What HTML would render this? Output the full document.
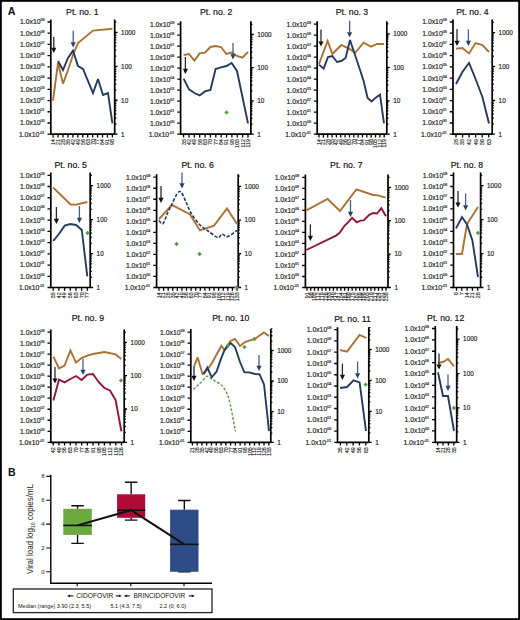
<!DOCTYPE html>
<html><head><meta charset="utf-8"><style>
html,body{margin:0;padding:0;background:#fff;}
svg{display:block;}
</style></head><body>
<svg width="520" height="620" viewBox="0 0 520 620" font-family="'Liberation Sans', sans-serif">
<rect width="520" height="620" fill="#fff"/>
<rect x="0.9" y="0.9" width="518.2" height="618.2" fill="none" stroke="#000" stroke-width="1.8"/>
<text transform="translate(7.7,14.7) scale(0.9,1)" font-size="11.8" font-weight="bold" fill="#111">A</text>
<path d="M50.8,19.4V134.2H114.7M114.7,19.4V134.2" fill="none" stroke="#000" stroke-width="1.7"/>
<text x="44.5" y="24.4" text-anchor="end" font-size="6.8" fill="#1a1a1a" stroke="#1a1a1a" stroke-width="0.16">1.0x10<tspan font-size="3.6" dy="-3">09</tspan></text>
<text x="44.5" y="35.62" text-anchor="end" font-size="6.8" fill="#1a1a1a" stroke="#1a1a1a" stroke-width="0.16">1.0x10<tspan font-size="3.6" dy="-3">08</tspan></text>
<text x="44.5" y="46.84" text-anchor="end" font-size="6.8" fill="#1a1a1a" stroke="#1a1a1a" stroke-width="0.16">1.0x10<tspan font-size="3.6" dy="-3">07</tspan></text>
<text x="44.5" y="58.06" text-anchor="end" font-size="6.8" fill="#1a1a1a" stroke="#1a1a1a" stroke-width="0.16">1.0x10<tspan font-size="3.6" dy="-3">06</tspan></text>
<text x="44.5" y="69.28" text-anchor="end" font-size="6.8" fill="#1a1a1a" stroke="#1a1a1a" stroke-width="0.16">1.0x10<tspan font-size="3.6" dy="-3">05</tspan></text>
<text x="44.5" y="80.5" text-anchor="end" font-size="6.8" fill="#1a1a1a" stroke="#1a1a1a" stroke-width="0.16">1.0x10<tspan font-size="3.6" dy="-3">04</tspan></text>
<text x="44.5" y="91.72" text-anchor="end" font-size="6.8" fill="#1a1a1a" stroke="#1a1a1a" stroke-width="0.16">1.0x10<tspan font-size="3.6" dy="-3">03</tspan></text>
<text x="44.5" y="102.94" text-anchor="end" font-size="6.8" fill="#1a1a1a" stroke="#1a1a1a" stroke-width="0.16">1.0x10<tspan font-size="3.6" dy="-3">02</tspan></text>
<text x="44.5" y="114.16" text-anchor="end" font-size="6.8" fill="#1a1a1a" stroke="#1a1a1a" stroke-width="0.16">1.0x10<tspan font-size="3.6" dy="-3">01</tspan></text>
<text x="44.5" y="125.38" text-anchor="end" font-size="6.8" fill="#1a1a1a" stroke="#1a1a1a" stroke-width="0.16">1.0x10<tspan font-size="3.6" dy="-3">00</tspan></text>
<text x="44.5" y="136.6" text-anchor="end" font-size="6.8" fill="#1a1a1a" stroke="#1a1a1a" stroke-width="0.16">1.0x10<tspan font-size="3.6" dy="-3">-01</tspan></text>
<text x="121.1" y="136.5" font-size="6.4" fill="#1a1a1a" stroke="#1a1a1a" stroke-width="0.16">1</text>
<text x="121.1" y="102.57" font-size="6.4" fill="#1a1a1a" stroke="#1a1a1a" stroke-width="0.16">10</text>
<text x="121.1" y="68.64" font-size="6.4" fill="#1a1a1a" stroke="#1a1a1a" stroke-width="0.16">100</text>
<text x="121.1" y="34.71" font-size="6.4" fill="#1a1a1a" stroke="#1a1a1a" stroke-width="0.16">1000</text>
<path d="M47.5,22H50.8M47.5,33.22H50.8M47.5,44.44H50.8M47.5,55.66H50.8M47.5,66.88H50.8M47.5,78.1H50.8M47.5,89.32H50.8M47.5,100.54H50.8M47.5,111.76H50.8M47.5,122.98H50.8M47.5,134.2H50.8M114.7,134.2H117.6M114.7,123.99H116.3M114.7,118.01H116.3M114.7,113.77H116.3M114.7,110.48H116.3M114.7,107.8H116.3M114.7,105.53H116.3M114.7,103.56H116.3M114.7,101.82H116.3M114.7,100.27H117.6M114.7,90.06H116.3M114.7,84.08H116.3M114.7,79.84H116.3M114.7,76.55H116.3M114.7,73.87H116.3M114.7,71.6H116.3M114.7,69.63H116.3M114.7,67.89H116.3M114.7,66.34H117.6M114.7,56.13H116.3M114.7,50.15H116.3M114.7,45.91H116.3M114.7,42.62H116.3M114.7,39.94H116.3M114.7,37.67H116.3M114.7,35.7H116.3M114.7,33.96H116.3M114.7,32.41H117.6M114.7,22.2H116.3M53.1,134.2V137.4M58.04,134.2V137.4M62.98,134.2V137.4M67.92,134.2V137.4M72.87,134.2V137.4M77.81,134.2V137.4M82.75,134.2V137.4M87.69,134.2V137.4M92.63,134.2V137.4M97.58,134.2V137.4M102.52,134.2V137.4M107.46,134.2V137.4M112.4,134.2V137.4" stroke="#000" stroke-width="1.3" fill="none"/>
<text transform="translate(55,139.1) rotate(-90)" text-anchor="end" font-size="5.3" fill="#1a1a1a" stroke="#1a1a1a" stroke-width="0.12">14</text>
<text transform="translate(59.94,139.1) rotate(-90)" text-anchor="end" font-size="5.3" fill="#1a1a1a" stroke="#1a1a1a" stroke-width="0.12">21</text>
<text transform="translate(64.88,139.1) rotate(-90)" text-anchor="end" font-size="5.3" fill="#1a1a1a" stroke="#1a1a1a" stroke-width="0.12">28</text>
<text transform="translate(69.83,139.1) rotate(-90)" text-anchor="end" font-size="5.3" fill="#1a1a1a" stroke="#1a1a1a" stroke-width="0.12">35</text>
<text transform="translate(74.77,139.1) rotate(-90)" text-anchor="end" font-size="5.3" fill="#1a1a1a" stroke="#1a1a1a" stroke-width="0.12">42</text>
<text transform="translate(79.71,139.1) rotate(-90)" text-anchor="end" font-size="5.3" fill="#1a1a1a" stroke="#1a1a1a" stroke-width="0.12">49</text>
<text transform="translate(84.65,139.1) rotate(-90)" text-anchor="end" font-size="5.3" fill="#1a1a1a" stroke="#1a1a1a" stroke-width="0.12">56</text>
<text transform="translate(89.59,139.1) rotate(-90)" text-anchor="end" font-size="5.3" fill="#1a1a1a" stroke="#1a1a1a" stroke-width="0.12">63</text>
<text transform="translate(94.53,139.1) rotate(-90)" text-anchor="end" font-size="5.3" fill="#1a1a1a" stroke="#1a1a1a" stroke-width="0.12">70</text>
<text transform="translate(99.48,139.1) rotate(-90)" text-anchor="end" font-size="5.3" fill="#1a1a1a" stroke="#1a1a1a" stroke-width="0.12">77</text>
<text transform="translate(104.42,139.1) rotate(-90)" text-anchor="end" font-size="5.3" fill="#1a1a1a" stroke="#1a1a1a" stroke-width="0.12">84</text>
<text transform="translate(109.36,139.1) rotate(-90)" text-anchor="end" font-size="5.3" fill="#1a1a1a" stroke="#1a1a1a" stroke-width="0.12">91</text>
<text transform="translate(114.3,139.1) rotate(-90)" text-anchor="end" font-size="5.3" fill="#1a1a1a" stroke="#1a1a1a" stroke-width="0.12">98</text>
<text x="82.3" y="14.8" text-anchor="middle" font-size="8.7" fill="#111" stroke="#111" stroke-width="0.18">Pt. no. 1</text>
<polyline points="53,100.6 58,63 63,83.6 68,70 73,55 78,43 93,30.6 112.4,28.8" fill="none" stroke="#AA7232" stroke-width="1.9" stroke-linejoin="miter" stroke-miterlimit="3"/>
<polyline points="58,61 63,70 68,58 73,50.6 78,66 83,69 93,93 98,79 103,95 108,93 112.4,123.4" fill="none" stroke="#253A5E" stroke-width="1.9" stroke-linejoin="miter" stroke-miterlimit="3"/>
<line x1="53.8" y1="36.7" x2="53.8" y2="48.3" stroke="#2a2a2a" stroke-width="1.3"/>
<polygon points="51.2,47.8 56.4,47.8 53.8,53" fill="#111"/>
<line x1="73.2" y1="30.8" x2="73.2" y2="42.8" stroke="#4A5F88" stroke-width="1.3"/>
<polygon points="70.6,42.3 75.8,42.3 73.2,47.5" fill="#2A4169"/>
<path d="M180.6,21.2V134.2H250.9M250.9,21.2V134.2" fill="none" stroke="#000" stroke-width="1.7"/>
<text x="174.3" y="26.6" text-anchor="end" font-size="6.8" fill="#1a1a1a" stroke="#1a1a1a" stroke-width="0.16">1.0x10<tspan font-size="3.6" dy="-3">09</tspan></text>
<text x="174.3" y="37.6" text-anchor="end" font-size="6.8" fill="#1a1a1a" stroke="#1a1a1a" stroke-width="0.16">1.0x10<tspan font-size="3.6" dy="-3">08</tspan></text>
<text x="174.3" y="48.6" text-anchor="end" font-size="6.8" fill="#1a1a1a" stroke="#1a1a1a" stroke-width="0.16">1.0x10<tspan font-size="3.6" dy="-3">07</tspan></text>
<text x="174.3" y="59.6" text-anchor="end" font-size="6.8" fill="#1a1a1a" stroke="#1a1a1a" stroke-width="0.16">1.0x10<tspan font-size="3.6" dy="-3">06</tspan></text>
<text x="174.3" y="70.6" text-anchor="end" font-size="6.8" fill="#1a1a1a" stroke="#1a1a1a" stroke-width="0.16">1.0x10<tspan font-size="3.6" dy="-3">05</tspan></text>
<text x="174.3" y="81.6" text-anchor="end" font-size="6.8" fill="#1a1a1a" stroke="#1a1a1a" stroke-width="0.16">1.0x10<tspan font-size="3.6" dy="-3">04</tspan></text>
<text x="174.3" y="92.6" text-anchor="end" font-size="6.8" fill="#1a1a1a" stroke="#1a1a1a" stroke-width="0.16">1.0x10<tspan font-size="3.6" dy="-3">03</tspan></text>
<text x="174.3" y="103.6" text-anchor="end" font-size="6.8" fill="#1a1a1a" stroke="#1a1a1a" stroke-width="0.16">1.0x10<tspan font-size="3.6" dy="-3">02</tspan></text>
<text x="174.3" y="114.6" text-anchor="end" font-size="6.8" fill="#1a1a1a" stroke="#1a1a1a" stroke-width="0.16">1.0x10<tspan font-size="3.6" dy="-3">01</tspan></text>
<text x="174.3" y="125.6" text-anchor="end" font-size="6.8" fill="#1a1a1a" stroke="#1a1a1a" stroke-width="0.16">1.0x10<tspan font-size="3.6" dy="-3">00</tspan></text>
<text x="174.3" y="136.6" text-anchor="end" font-size="6.8" fill="#1a1a1a" stroke="#1a1a1a" stroke-width="0.16">1.0x10<tspan font-size="3.6" dy="-3">-01</tspan></text>
<text x="257.3" y="136.5" font-size="6.4" fill="#1a1a1a" stroke="#1a1a1a" stroke-width="0.16">1</text>
<text x="257.3" y="103.23" font-size="6.4" fill="#1a1a1a" stroke="#1a1a1a" stroke-width="0.16">10</text>
<text x="257.3" y="69.96" font-size="6.4" fill="#1a1a1a" stroke="#1a1a1a" stroke-width="0.16">100</text>
<text x="257.3" y="36.69" font-size="6.4" fill="#1a1a1a" stroke="#1a1a1a" stroke-width="0.16">1000</text>
<path d="M177.3,24.2H180.6M177.3,35.2H180.6M177.3,46.2H180.6M177.3,57.2H180.6M177.3,68.2H180.6M177.3,79.2H180.6M177.3,90.2H180.6M177.3,101.2H180.6M177.3,112.2H180.6M177.3,123.2H180.6M177.3,134.2H180.6M250.9,134.2H253.8M250.9,124.18H252.5M250.9,118.33H252.5M250.9,114.17H252.5M250.9,110.95H252.5M250.9,108.31H252.5M250.9,106.08H252.5M250.9,104.15H252.5M250.9,102.45H252.5M250.9,100.93H253.8M250.9,90.91H252.5M250.9,85.06H252.5M250.9,80.9H252.5M250.9,77.68H252.5M250.9,75.04H252.5M250.9,72.81H252.5M250.9,70.88H252.5M250.9,69.18H252.5M250.9,67.66H253.8M250.9,57.64H252.5M250.9,51.79H252.5M250.9,47.63H252.5M250.9,44.41H252.5M250.9,41.77H252.5M250.9,39.54H252.5M250.9,37.61H252.5M250.9,35.91H252.5M250.9,34.39H253.8M250.9,24.37H252.5M183.6,134.2V137.4M188.97,134.2V137.4M194.33,134.2V137.4M199.7,134.2V137.4M205.07,134.2V137.4M210.43,134.2V137.4M215.8,134.2V137.4M221.17,134.2V137.4M226.53,134.2V137.4M231.9,134.2V137.4M237.27,134.2V137.4M242.63,134.2V137.4M248,134.2V137.4" stroke="#000" stroke-width="1.3" fill="none"/>
<text transform="translate(185.5,139.1) rotate(-90)" text-anchor="end" font-size="5.3" fill="#1a1a1a" stroke="#1a1a1a" stroke-width="0.12">35</text>
<text transform="translate(190.87,139.1) rotate(-90)" text-anchor="end" font-size="5.3" fill="#1a1a1a" stroke="#1a1a1a" stroke-width="0.12">42</text>
<text transform="translate(196.23,139.1) rotate(-90)" text-anchor="end" font-size="5.3" fill="#1a1a1a" stroke="#1a1a1a" stroke-width="0.12">49</text>
<text transform="translate(201.6,139.1) rotate(-90)" text-anchor="end" font-size="5.3" fill="#1a1a1a" stroke="#1a1a1a" stroke-width="0.12">56</text>
<text transform="translate(206.97,139.1) rotate(-90)" text-anchor="end" font-size="5.3" fill="#1a1a1a" stroke="#1a1a1a" stroke-width="0.12">63</text>
<text transform="translate(212.33,139.1) rotate(-90)" text-anchor="end" font-size="5.3" fill="#1a1a1a" stroke="#1a1a1a" stroke-width="0.12">70</text>
<text transform="translate(217.7,139.1) rotate(-90)" text-anchor="end" font-size="5.3" fill="#1a1a1a" stroke="#1a1a1a" stroke-width="0.12">77</text>
<text transform="translate(223.07,139.1) rotate(-90)" text-anchor="end" font-size="5.3" fill="#1a1a1a" stroke="#1a1a1a" stroke-width="0.12">84</text>
<text transform="translate(228.43,139.1) rotate(-90)" text-anchor="end" font-size="5.3" fill="#1a1a1a" stroke="#1a1a1a" stroke-width="0.12">91</text>
<text transform="translate(233.8,139.1) rotate(-90)" text-anchor="end" font-size="5.3" fill="#1a1a1a" stroke="#1a1a1a" stroke-width="0.12">98</text>
<text transform="translate(239.17,139.1) rotate(-90)" text-anchor="end" font-size="5.3" fill="#1a1a1a" stroke="#1a1a1a" stroke-width="0.12">105</text>
<text transform="translate(244.53,139.1) rotate(-90)" text-anchor="end" font-size="5.3" fill="#1a1a1a" stroke="#1a1a1a" stroke-width="0.12">112</text>
<text transform="translate(249.9,139.1) rotate(-90)" text-anchor="end" font-size="5.3" fill="#1a1a1a" stroke="#1a1a1a" stroke-width="0.12">119</text>
<text x="216.2" y="15" text-anchor="middle" font-size="8.7" fill="#111" stroke="#111" stroke-width="0.18">Pt. no. 2</text>
<polyline points="183.6,55 189,54 194.4,60.6 199.6,53.4 205,52.6 210.4,47 215.6,46 221,47 226.4,54 231.6,52.6 237,56 242.4,57.6 248,52" fill="none" stroke="#AA7232" stroke-width="1.9" stroke-linejoin="miter" stroke-miterlimit="3"/>
<polyline points="183.6,78.6 189,89.4 194.4,93 199.6,95.4 205,91.4 210.4,90 215.6,69 221,67.4 226.4,66 231.6,63 237,71 248,123.4" fill="none" stroke="#253A5E" stroke-width="1.9" stroke-linejoin="miter" stroke-miterlimit="3"/>
<polygon points="226.6,110.2 228.8,112.4 226.6,114.6 224.4,112.4" fill="#5A9A44"/>
<line x1="185.4" y1="57" x2="185.4" y2="69.3" stroke="#2a2a2a" stroke-width="1.3"/>
<polygon points="182.8,68.8 188,68.8 185.4,74" fill="#111"/>
<line x1="233" y1="43" x2="233" y2="54.7" stroke="#4A5F88" stroke-width="1.3"/>
<polygon points="230.4,54.2 235.6,54.2 233,59.4" fill="#2A4169"/>
<path d="M317.2,21.3V134.2H386.8M386.8,21.3V134.2" fill="none" stroke="#000" stroke-width="1.7"/>
<text x="310.9" y="26.6" text-anchor="end" font-size="6.8" fill="#1a1a1a" stroke="#1a1a1a" stroke-width="0.16">1.0x10<tspan font-size="3.6" dy="-3">09</tspan></text>
<text x="310.9" y="37.6" text-anchor="end" font-size="6.8" fill="#1a1a1a" stroke="#1a1a1a" stroke-width="0.16">1.0x10<tspan font-size="3.6" dy="-3">08</tspan></text>
<text x="310.9" y="48.6" text-anchor="end" font-size="6.8" fill="#1a1a1a" stroke="#1a1a1a" stroke-width="0.16">1.0x10<tspan font-size="3.6" dy="-3">07</tspan></text>
<text x="310.9" y="59.6" text-anchor="end" font-size="6.8" fill="#1a1a1a" stroke="#1a1a1a" stroke-width="0.16">1.0x10<tspan font-size="3.6" dy="-3">06</tspan></text>
<text x="310.9" y="70.6" text-anchor="end" font-size="6.8" fill="#1a1a1a" stroke="#1a1a1a" stroke-width="0.16">1.0x10<tspan font-size="3.6" dy="-3">05</tspan></text>
<text x="310.9" y="81.6" text-anchor="end" font-size="6.8" fill="#1a1a1a" stroke="#1a1a1a" stroke-width="0.16">1.0x10<tspan font-size="3.6" dy="-3">04</tspan></text>
<text x="310.9" y="92.6" text-anchor="end" font-size="6.8" fill="#1a1a1a" stroke="#1a1a1a" stroke-width="0.16">1.0x10<tspan font-size="3.6" dy="-3">03</tspan></text>
<text x="310.9" y="103.6" text-anchor="end" font-size="6.8" fill="#1a1a1a" stroke="#1a1a1a" stroke-width="0.16">1.0x10<tspan font-size="3.6" dy="-3">02</tspan></text>
<text x="310.9" y="114.6" text-anchor="end" font-size="6.8" fill="#1a1a1a" stroke="#1a1a1a" stroke-width="0.16">1.0x10<tspan font-size="3.6" dy="-3">01</tspan></text>
<text x="310.9" y="125.6" text-anchor="end" font-size="6.8" fill="#1a1a1a" stroke="#1a1a1a" stroke-width="0.16">1.0x10<tspan font-size="3.6" dy="-3">00</tspan></text>
<text x="310.9" y="136.6" text-anchor="end" font-size="6.8" fill="#1a1a1a" stroke="#1a1a1a" stroke-width="0.16">1.0x10<tspan font-size="3.6" dy="-3">-01</tspan></text>
<text x="393.2" y="136.5" font-size="6.4" fill="#1a1a1a" stroke="#1a1a1a" stroke-width="0.16">1</text>
<text x="393.2" y="103.1" font-size="6.4" fill="#1a1a1a" stroke="#1a1a1a" stroke-width="0.16">10</text>
<text x="393.2" y="69.7" font-size="6.4" fill="#1a1a1a" stroke="#1a1a1a" stroke-width="0.16">100</text>
<text x="393.2" y="36.3" font-size="6.4" fill="#1a1a1a" stroke="#1a1a1a" stroke-width="0.16">1000</text>
<path d="M313.9,24.2H317.2M313.9,35.2H317.2M313.9,46.2H317.2M313.9,57.2H317.2M313.9,68.2H317.2M313.9,79.2H317.2M313.9,90.2H317.2M313.9,101.2H317.2M313.9,112.2H317.2M313.9,123.2H317.2M313.9,134.2H317.2M386.8,134.2H389.7M386.8,124.15H388.4M386.8,118.26H388.4M386.8,114.09H388.4M386.8,110.85H388.4M386.8,108.21H388.4M386.8,105.97H388.4M386.8,104.04H388.4M386.8,102.33H388.4M386.8,100.8H389.7M386.8,90.75H388.4M386.8,84.86H388.4M386.8,80.69H388.4M386.8,77.45H388.4M386.8,74.81H388.4M386.8,72.57H388.4M386.8,70.64H388.4M386.8,68.93H388.4M386.8,67.4H389.7M386.8,57.35H388.4M386.8,51.46H388.4M386.8,47.29H388.4M386.8,44.05H388.4M386.8,41.41H388.4M386.8,39.17H388.4M386.8,37.24H388.4M386.8,35.53H388.4M386.8,34H389.7M386.8,23.95H388.4M319,134.2V137.4M323.35,134.2V137.4M327.69,134.2V137.4M332.04,134.2V137.4M336.39,134.2V137.4M340.73,134.2V137.4M345.08,134.2V137.4M349.43,134.2V137.4M353.77,134.2V137.4M358.12,134.2V137.4M362.47,134.2V137.4M366.81,134.2V137.4M371.16,134.2V137.4M375.51,134.2V137.4M379.85,134.2V137.4M384.2,134.2V137.4" stroke="#000" stroke-width="1.3" fill="none"/>
<text transform="translate(320.9,139.1) rotate(-90)" text-anchor="end" font-size="5.3" fill="#1a1a1a" stroke="#1a1a1a" stroke-width="0.12">14</text>
<text transform="translate(325.25,139.1) rotate(-90)" text-anchor="end" font-size="5.3" fill="#1a1a1a" stroke="#1a1a1a" stroke-width="0.12">21</text>
<text transform="translate(329.59,139.1) rotate(-90)" text-anchor="end" font-size="5.3" fill="#1a1a1a" stroke="#1a1a1a" stroke-width="0.12">28</text>
<text transform="translate(333.94,139.1) rotate(-90)" text-anchor="end" font-size="5.3" fill="#1a1a1a" stroke="#1a1a1a" stroke-width="0.12">35</text>
<text transform="translate(338.29,139.1) rotate(-90)" text-anchor="end" font-size="5.3" fill="#1a1a1a" stroke="#1a1a1a" stroke-width="0.12">42</text>
<text transform="translate(342.63,139.1) rotate(-90)" text-anchor="end" font-size="5.3" fill="#1a1a1a" stroke="#1a1a1a" stroke-width="0.12">49</text>
<text transform="translate(346.98,139.1) rotate(-90)" text-anchor="end" font-size="5.3" fill="#1a1a1a" stroke="#1a1a1a" stroke-width="0.12">56</text>
<text transform="translate(351.33,139.1) rotate(-90)" text-anchor="end" font-size="5.3" fill="#1a1a1a" stroke="#1a1a1a" stroke-width="0.12">63</text>
<text transform="translate(355.67,139.1) rotate(-90)" text-anchor="end" font-size="5.3" fill="#1a1a1a" stroke="#1a1a1a" stroke-width="0.12">70</text>
<text transform="translate(360.02,139.1) rotate(-90)" text-anchor="end" font-size="5.3" fill="#1a1a1a" stroke="#1a1a1a" stroke-width="0.12">77</text>
<text transform="translate(364.37,139.1) rotate(-90)" text-anchor="end" font-size="5.3" fill="#1a1a1a" stroke="#1a1a1a" stroke-width="0.12">84</text>
<text transform="translate(368.71,139.1) rotate(-90)" text-anchor="end" font-size="5.3" fill="#1a1a1a" stroke="#1a1a1a" stroke-width="0.12">91</text>
<text transform="translate(373.06,139.1) rotate(-90)" text-anchor="end" font-size="5.3" fill="#1a1a1a" stroke="#1a1a1a" stroke-width="0.12">98</text>
<text transform="translate(377.41,139.1) rotate(-90)" text-anchor="end" font-size="5.3" fill="#1a1a1a" stroke="#1a1a1a" stroke-width="0.12">105</text>
<text transform="translate(381.75,139.1) rotate(-90)" text-anchor="end" font-size="5.3" fill="#1a1a1a" stroke="#1a1a1a" stroke-width="0.12">112</text>
<text transform="translate(386.1,139.1) rotate(-90)" text-anchor="end" font-size="5.3" fill="#1a1a1a" stroke="#1a1a1a" stroke-width="0.12">119</text>
<text x="352" y="15" text-anchor="middle" font-size="8.7" fill="#111" stroke="#111" stroke-width="0.18">Pt. no. 3</text>
<polyline points="319,64 327.6,41 332.4,54 341.4,45 350.4,49.4 355,53 363.6,42.6 371,46.6 377,44 384,44" fill="none" stroke="#AA7232" stroke-width="1.9" stroke-linejoin="miter" stroke-miterlimit="3"/>
<polyline points="319,64.6 323.6,68.6 328,57 332.4,56 337,62 341.4,61 345.6,58 350,40 355,55 359.4,68 363.6,81 367.6,98 371.6,101.4 376,97.4 380,94.6 384,123.4" fill="none" stroke="#253A5E" stroke-width="1.9" stroke-linejoin="miter" stroke-miterlimit="3"/>
<line x1="321" y1="29.4" x2="321" y2="41.9" stroke="#2a2a2a" stroke-width="1.3"/>
<polygon points="318.4,41.4 323.6,41.4 321,46.6" fill="#111"/>
<line x1="349.6" y1="20.6" x2="349.6" y2="32.7" stroke="#4A5F88" stroke-width="1.3"/>
<polygon points="347,32.2 352.2,32.2 349.6,37.4" fill="#2A4169"/>
<path d="M453,19.4V134.2H492.2M492.2,19.4V134.2" fill="none" stroke="#000" stroke-width="1.7"/>
<text x="446.7" y="24.4" text-anchor="end" font-size="6.8" fill="#1a1a1a" stroke="#1a1a1a" stroke-width="0.16">1.0x10<tspan font-size="3.6" dy="-3">09</tspan></text>
<text x="446.7" y="35.62" text-anchor="end" font-size="6.8" fill="#1a1a1a" stroke="#1a1a1a" stroke-width="0.16">1.0x10<tspan font-size="3.6" dy="-3">08</tspan></text>
<text x="446.7" y="46.84" text-anchor="end" font-size="6.8" fill="#1a1a1a" stroke="#1a1a1a" stroke-width="0.16">1.0x10<tspan font-size="3.6" dy="-3">07</tspan></text>
<text x="446.7" y="58.06" text-anchor="end" font-size="6.8" fill="#1a1a1a" stroke="#1a1a1a" stroke-width="0.16">1.0x10<tspan font-size="3.6" dy="-3">06</tspan></text>
<text x="446.7" y="69.28" text-anchor="end" font-size="6.8" fill="#1a1a1a" stroke="#1a1a1a" stroke-width="0.16">1.0x10<tspan font-size="3.6" dy="-3">05</tspan></text>
<text x="446.7" y="80.5" text-anchor="end" font-size="6.8" fill="#1a1a1a" stroke="#1a1a1a" stroke-width="0.16">1.0x10<tspan font-size="3.6" dy="-3">04</tspan></text>
<text x="446.7" y="91.72" text-anchor="end" font-size="6.8" fill="#1a1a1a" stroke="#1a1a1a" stroke-width="0.16">1.0x10<tspan font-size="3.6" dy="-3">03</tspan></text>
<text x="446.7" y="102.94" text-anchor="end" font-size="6.8" fill="#1a1a1a" stroke="#1a1a1a" stroke-width="0.16">1.0x10<tspan font-size="3.6" dy="-3">02</tspan></text>
<text x="446.7" y="114.16" text-anchor="end" font-size="6.8" fill="#1a1a1a" stroke="#1a1a1a" stroke-width="0.16">1.0x10<tspan font-size="3.6" dy="-3">01</tspan></text>
<text x="446.7" y="125.38" text-anchor="end" font-size="6.8" fill="#1a1a1a" stroke="#1a1a1a" stroke-width="0.16">1.0x10<tspan font-size="3.6" dy="-3">00</tspan></text>
<text x="446.7" y="136.6" text-anchor="end" font-size="6.8" fill="#1a1a1a" stroke="#1a1a1a" stroke-width="0.16">1.0x10<tspan font-size="3.6" dy="-3">-01</tspan></text>
<text x="498.6" y="136.5" font-size="6.4" fill="#1a1a1a" stroke="#1a1a1a" stroke-width="0.16">1</text>
<text x="498.6" y="102.63" font-size="6.4" fill="#1a1a1a" stroke="#1a1a1a" stroke-width="0.16">10</text>
<text x="498.6" y="68.76" font-size="6.4" fill="#1a1a1a" stroke="#1a1a1a" stroke-width="0.16">100</text>
<text x="498.6" y="34.89" font-size="6.4" fill="#1a1a1a" stroke="#1a1a1a" stroke-width="0.16">1000</text>
<path d="M449.7,22H453M449.7,33.22H453M449.7,44.44H453M449.7,55.66H453M449.7,66.88H453M449.7,78.1H453M449.7,89.32H453M449.7,100.54H453M449.7,111.76H453M449.7,122.98H453M449.7,134.2H453M492.2,134.2H495.1M492.2,124H493.8M492.2,118.04H493.8M492.2,113.81H493.8M492.2,110.53H493.8M492.2,107.84H493.8M492.2,105.58H493.8M492.2,103.61H493.8M492.2,101.88H493.8M492.2,100.33H495.1M492.2,90.13H493.8M492.2,84.17H493.8M492.2,79.94H493.8M492.2,76.66H493.8M492.2,73.97H493.8M492.2,71.71H493.8M492.2,69.74H493.8M492.2,68.01H493.8M492.2,66.46H495.1M492.2,56.26H493.8M492.2,50.3H493.8M492.2,46.07H493.8M492.2,42.79H493.8M492.2,40.1H493.8M492.2,37.84H493.8M492.2,35.87H493.8M492.2,34.14H493.8M492.2,32.59H495.1M492.2,22.39H493.8M456,134.2V137.4M462.55,134.2V137.4M469.1,134.2V137.4M475.65,134.2V137.4M482.2,134.2V137.4M488.75,134.2V137.4" stroke="#000" stroke-width="1.3" fill="none"/>
<text transform="translate(457.9,139.1) rotate(-90)" text-anchor="end" font-size="5.3" fill="#1a1a1a" stroke="#1a1a1a" stroke-width="0.12">28</text>
<text transform="translate(464.45,139.1) rotate(-90)" text-anchor="end" font-size="5.3" fill="#1a1a1a" stroke="#1a1a1a" stroke-width="0.12">35</text>
<text transform="translate(471,139.1) rotate(-90)" text-anchor="end" font-size="5.3" fill="#1a1a1a" stroke="#1a1a1a" stroke-width="0.12">42</text>
<text transform="translate(477.55,139.1) rotate(-90)" text-anchor="end" font-size="5.3" fill="#1a1a1a" stroke="#1a1a1a" stroke-width="0.12">49</text>
<text transform="translate(484.1,139.1) rotate(-90)" text-anchor="end" font-size="5.3" fill="#1a1a1a" stroke="#1a1a1a" stroke-width="0.12">56</text>
<text transform="translate(490.65,139.1) rotate(-90)" text-anchor="end" font-size="5.3" fill="#1a1a1a" stroke="#1a1a1a" stroke-width="0.12">63</text>
<text x="472.4" y="14.8" text-anchor="middle" font-size="8.7" fill="#111" stroke="#111" stroke-width="0.18">Pt. no. 4</text>
<polyline points="456,48.6 462.4,48 469,53.4 475.6,43 482.4,45 489,52" fill="none" stroke="#AA7232" stroke-width="1.9" stroke-linejoin="miter" stroke-miterlimit="3"/>
<polyline points="456,84 462.4,72 469,63 475.6,79 482.4,97 489,123.4" fill="none" stroke="#253A5E" stroke-width="1.9" stroke-linejoin="miter" stroke-miterlimit="3"/>
<line x1="457" y1="29" x2="457" y2="41.3" stroke="#2a2a2a" stroke-width="1.3"/>
<polygon points="454.4,40.8 459.6,40.8 457,46" fill="#111"/>
<line x1="468.4" y1="29.4" x2="468.4" y2="41.3" stroke="#4A5F88" stroke-width="1.3"/>
<polygon points="465.8,40.8 471,40.8 468.4,46" fill="#2A4169"/>
<path d="M50.8,172.6V287.5H90.2M90.2,172.6V287.5" fill="none" stroke="#000" stroke-width="1.7"/>
<text x="44.5" y="177.7" text-anchor="end" font-size="6.8" fill="#1a1a1a" stroke="#1a1a1a" stroke-width="0.16">1.0x10<tspan font-size="3.6" dy="-3">09</tspan></text>
<text x="44.5" y="188.92" text-anchor="end" font-size="6.8" fill="#1a1a1a" stroke="#1a1a1a" stroke-width="0.16">1.0x10<tspan font-size="3.6" dy="-3">08</tspan></text>
<text x="44.5" y="200.14" text-anchor="end" font-size="6.8" fill="#1a1a1a" stroke="#1a1a1a" stroke-width="0.16">1.0x10<tspan font-size="3.6" dy="-3">07</tspan></text>
<text x="44.5" y="211.36" text-anchor="end" font-size="6.8" fill="#1a1a1a" stroke="#1a1a1a" stroke-width="0.16">1.0x10<tspan font-size="3.6" dy="-3">06</tspan></text>
<text x="44.5" y="222.58" text-anchor="end" font-size="6.8" fill="#1a1a1a" stroke="#1a1a1a" stroke-width="0.16">1.0x10<tspan font-size="3.6" dy="-3">05</tspan></text>
<text x="44.5" y="233.8" text-anchor="end" font-size="6.8" fill="#1a1a1a" stroke="#1a1a1a" stroke-width="0.16">1.0x10<tspan font-size="3.6" dy="-3">04</tspan></text>
<text x="44.5" y="245.02" text-anchor="end" font-size="6.8" fill="#1a1a1a" stroke="#1a1a1a" stroke-width="0.16">1.0x10<tspan font-size="3.6" dy="-3">03</tspan></text>
<text x="44.5" y="256.24" text-anchor="end" font-size="6.8" fill="#1a1a1a" stroke="#1a1a1a" stroke-width="0.16">1.0x10<tspan font-size="3.6" dy="-3">02</tspan></text>
<text x="44.5" y="267.46" text-anchor="end" font-size="6.8" fill="#1a1a1a" stroke="#1a1a1a" stroke-width="0.16">1.0x10<tspan font-size="3.6" dy="-3">01</tspan></text>
<text x="44.5" y="278.68" text-anchor="end" font-size="6.8" fill="#1a1a1a" stroke="#1a1a1a" stroke-width="0.16">1.0x10<tspan font-size="3.6" dy="-3">00</tspan></text>
<text x="44.5" y="289.9" text-anchor="end" font-size="6.8" fill="#1a1a1a" stroke="#1a1a1a" stroke-width="0.16">1.0x10<tspan font-size="3.6" dy="-3">-01</tspan></text>
<text x="96.6" y="289.8" font-size="6.4" fill="#1a1a1a" stroke="#1a1a1a" stroke-width="0.16">1</text>
<text x="96.6" y="255.83" font-size="6.4" fill="#1a1a1a" stroke="#1a1a1a" stroke-width="0.16">10</text>
<text x="96.6" y="221.86" font-size="6.4" fill="#1a1a1a" stroke="#1a1a1a" stroke-width="0.16">100</text>
<text x="96.6" y="187.89" font-size="6.4" fill="#1a1a1a" stroke="#1a1a1a" stroke-width="0.16">1000</text>
<path d="M47.5,175.3H50.8M47.5,186.52H50.8M47.5,197.74H50.8M47.5,208.96H50.8M47.5,220.18H50.8M47.5,231.4H50.8M47.5,242.62H50.8M47.5,253.84H50.8M47.5,265.06H50.8M47.5,276.28H50.8M47.5,287.5H50.8M90.2,287.5H93.1M90.2,277.27H91.8M90.2,271.29H91.8M90.2,267.05H91.8M90.2,263.76H91.8M90.2,261.07H91.8M90.2,258.79H91.8M90.2,256.82H91.8M90.2,255.08H91.8M90.2,253.53H93.1M90.2,243.3H91.8M90.2,237.32H91.8M90.2,233.08H91.8M90.2,229.79H91.8M90.2,227.1H91.8M90.2,224.82H91.8M90.2,222.85H91.8M90.2,221.11H91.8M90.2,219.56H93.1M90.2,209.33H91.8M90.2,203.35H91.8M90.2,199.11H91.8M90.2,195.82H91.8M90.2,193.13H91.8M90.2,190.85H91.8M90.2,188.88H91.8M90.2,187.14H91.8M90.2,185.59H93.1M90.2,175.36H91.8M53.2,287.5V290.7M58.88,287.5V290.7M64.57,287.5V290.7M70.25,287.5V290.7M75.93,287.5V290.7M81.62,287.5V290.7M87.3,287.5V290.7" stroke="#000" stroke-width="1.3" fill="none"/>
<text transform="translate(55.1,292.4) rotate(-90)" text-anchor="end" font-size="5.3" fill="#1a1a1a" stroke="#1a1a1a" stroke-width="0.12">35</text>
<text transform="translate(60.78,292.4) rotate(-90)" text-anchor="end" font-size="5.3" fill="#1a1a1a" stroke="#1a1a1a" stroke-width="0.12">42</text>
<text transform="translate(66.47,292.4) rotate(-90)" text-anchor="end" font-size="5.3" fill="#1a1a1a" stroke="#1a1a1a" stroke-width="0.12">49</text>
<text transform="translate(72.15,292.4) rotate(-90)" text-anchor="end" font-size="5.3" fill="#1a1a1a" stroke="#1a1a1a" stroke-width="0.12">56</text>
<text transform="translate(77.83,292.4) rotate(-90)" text-anchor="end" font-size="5.3" fill="#1a1a1a" stroke="#1a1a1a" stroke-width="0.12">63</text>
<text transform="translate(83.52,292.4) rotate(-90)" text-anchor="end" font-size="5.3" fill="#1a1a1a" stroke="#1a1a1a" stroke-width="0.12">70</text>
<text transform="translate(89.2,292.4) rotate(-90)" text-anchor="end" font-size="5.3" fill="#1a1a1a" stroke="#1a1a1a" stroke-width="0.12">77</text>
<text x="70.75" y="167.5" text-anchor="middle" font-size="8.7" fill="#111" stroke="#111" stroke-width="0.18">Pt. no. 5</text>
<polyline points="53.2,187.6 70.6,204.5 76.1,204.6 87.3,202" fill="none" stroke="#AA7232" stroke-width="1.9" stroke-linejoin="miter" stroke-miterlimit="3"/>
<polyline points="53.2,241 58.9,234 64.7,225.6 70.4,224 76.1,225 81.8,230 87.3,276.4" fill="none" stroke="#253A5E" stroke-width="1.9" stroke-linejoin="miter" stroke-miterlimit="3"/>
<polygon points="87.6,230.8 89.8,233 87.6,235.2 85.4,233" fill="#5A9A44"/>
<line x1="56.4" y1="207" x2="56.4" y2="219.3" stroke="#2a2a2a" stroke-width="1.3"/>
<polygon points="53.8,218.8 59,218.8 56.4,224" fill="#111"/>
<line x1="79.4" y1="206" x2="79.4" y2="218.3" stroke="#4A5F88" stroke-width="1.3"/>
<polygon points="76.8,217.8 82,217.8 79.4,223" fill="#2A4169"/>
<path d="M156.6,174.3V287.5H238.2M238.2,174.3V287.5" fill="none" stroke="#000" stroke-width="1.7"/>
<text x="150.3" y="179.6" text-anchor="end" font-size="6.8" fill="#1a1a1a" stroke="#1a1a1a" stroke-width="0.16">1.0x10<tspan font-size="3.6" dy="-3">09</tspan></text>
<text x="150.3" y="190.63" text-anchor="end" font-size="6.8" fill="#1a1a1a" stroke="#1a1a1a" stroke-width="0.16">1.0x10<tspan font-size="3.6" dy="-3">08</tspan></text>
<text x="150.3" y="201.66" text-anchor="end" font-size="6.8" fill="#1a1a1a" stroke="#1a1a1a" stroke-width="0.16">1.0x10<tspan font-size="3.6" dy="-3">07</tspan></text>
<text x="150.3" y="212.69" text-anchor="end" font-size="6.8" fill="#1a1a1a" stroke="#1a1a1a" stroke-width="0.16">1.0x10<tspan font-size="3.6" dy="-3">06</tspan></text>
<text x="150.3" y="223.72" text-anchor="end" font-size="6.8" fill="#1a1a1a" stroke="#1a1a1a" stroke-width="0.16">1.0x10<tspan font-size="3.6" dy="-3">05</tspan></text>
<text x="150.3" y="234.75" text-anchor="end" font-size="6.8" fill="#1a1a1a" stroke="#1a1a1a" stroke-width="0.16">1.0x10<tspan font-size="3.6" dy="-3">04</tspan></text>
<text x="150.3" y="245.78" text-anchor="end" font-size="6.8" fill="#1a1a1a" stroke="#1a1a1a" stroke-width="0.16">1.0x10<tspan font-size="3.6" dy="-3">03</tspan></text>
<text x="150.3" y="256.81" text-anchor="end" font-size="6.8" fill="#1a1a1a" stroke="#1a1a1a" stroke-width="0.16">1.0x10<tspan font-size="3.6" dy="-3">02</tspan></text>
<text x="150.3" y="267.84" text-anchor="end" font-size="6.8" fill="#1a1a1a" stroke="#1a1a1a" stroke-width="0.16">1.0x10<tspan font-size="3.6" dy="-3">01</tspan></text>
<text x="150.3" y="278.87" text-anchor="end" font-size="6.8" fill="#1a1a1a" stroke="#1a1a1a" stroke-width="0.16">1.0x10<tspan font-size="3.6" dy="-3">00</tspan></text>
<text x="150.3" y="289.9" text-anchor="end" font-size="6.8" fill="#1a1a1a" stroke="#1a1a1a" stroke-width="0.16">1.0x10<tspan font-size="3.6" dy="-3">-01</tspan></text>
<text x="244.6" y="289.8" font-size="6.4" fill="#1a1a1a" stroke="#1a1a1a" stroke-width="0.16">1</text>
<text x="244.6" y="256.07" font-size="6.4" fill="#1a1a1a" stroke="#1a1a1a" stroke-width="0.16">10</text>
<text x="244.6" y="222.34" font-size="6.4" fill="#1a1a1a" stroke="#1a1a1a" stroke-width="0.16">100</text>
<text x="244.6" y="188.61" font-size="6.4" fill="#1a1a1a" stroke="#1a1a1a" stroke-width="0.16">1000</text>
<path d="M153.3,177.2H156.6M153.3,188.23H156.6M153.3,199.26H156.6M153.3,210.29H156.6M153.3,221.32H156.6M153.3,232.35H156.6M153.3,243.38H156.6M153.3,254.41H156.6M153.3,265.44H156.6M153.3,276.47H156.6M153.3,287.5H156.6M238.2,287.5H241.1M238.2,277.35H239.8M238.2,271.41H239.8M238.2,267.19H239.8M238.2,263.92H239.8M238.2,261.25H239.8M238.2,258.99H239.8M238.2,257.04H239.8M238.2,255.31H239.8M238.2,253.77H241.1M238.2,243.62H239.8M238.2,237.68H239.8M238.2,233.46H239.8M238.2,230.19H239.8M238.2,227.52H239.8M238.2,225.26H239.8M238.2,223.31H239.8M238.2,221.58H239.8M238.2,220.04H241.1M238.2,209.89H239.8M238.2,203.95H239.8M238.2,199.73H239.8M238.2,196.46H239.8M238.2,193.79H239.8M238.2,191.53H239.8M238.2,189.58H239.8M238.2,187.85H239.8M238.2,186.31H241.1M238.2,176.16H239.8M159,287.5V290.7M163.59,287.5V290.7M168.18,287.5V290.7M172.76,287.5V290.7M177.35,287.5V290.7M181.94,287.5V290.7M186.53,287.5V290.7M191.12,287.5V290.7M195.71,287.5V290.7M200.29,287.5V290.7M204.88,287.5V290.7M209.47,287.5V290.7M214.06,287.5V290.7M218.65,287.5V290.7M223.24,287.5V290.7M227.82,287.5V290.7M232.41,287.5V290.7M237,287.5V290.7" stroke="#000" stroke-width="1.3" fill="none"/>
<text transform="translate(160.9,292.4) rotate(-90)" text-anchor="end" font-size="5.3" fill="#1a1a1a" stroke="#1a1a1a" stroke-width="0.12">14</text>
<text transform="translate(165.49,292.4) rotate(-90)" text-anchor="end" font-size="5.3" fill="#1a1a1a" stroke="#1a1a1a" stroke-width="0.12">21</text>
<text transform="translate(170.08,292.4) rotate(-90)" text-anchor="end" font-size="5.3" fill="#1a1a1a" stroke="#1a1a1a" stroke-width="0.12">28</text>
<text transform="translate(174.66,292.4) rotate(-90)" text-anchor="end" font-size="5.3" fill="#1a1a1a" stroke="#1a1a1a" stroke-width="0.12">35</text>
<text transform="translate(179.25,292.4) rotate(-90)" text-anchor="end" font-size="5.3" fill="#1a1a1a" stroke="#1a1a1a" stroke-width="0.12">42</text>
<text transform="translate(183.84,292.4) rotate(-90)" text-anchor="end" font-size="5.3" fill="#1a1a1a" stroke="#1a1a1a" stroke-width="0.12">49</text>
<text transform="translate(188.43,292.4) rotate(-90)" text-anchor="end" font-size="5.3" fill="#1a1a1a" stroke="#1a1a1a" stroke-width="0.12">56</text>
<text transform="translate(193.02,292.4) rotate(-90)" text-anchor="end" font-size="5.3" fill="#1a1a1a" stroke="#1a1a1a" stroke-width="0.12">63</text>
<text transform="translate(197.61,292.4) rotate(-90)" text-anchor="end" font-size="5.3" fill="#1a1a1a" stroke="#1a1a1a" stroke-width="0.12">70</text>
<text transform="translate(202.19,292.4) rotate(-90)" text-anchor="end" font-size="5.3" fill="#1a1a1a" stroke="#1a1a1a" stroke-width="0.12">77</text>
<text transform="translate(206.78,292.4) rotate(-90)" text-anchor="end" font-size="5.3" fill="#1a1a1a" stroke="#1a1a1a" stroke-width="0.12">84</text>
<text transform="translate(211.37,292.4) rotate(-90)" text-anchor="end" font-size="5.3" fill="#1a1a1a" stroke="#1a1a1a" stroke-width="0.12">91</text>
<text transform="translate(215.96,292.4) rotate(-90)" text-anchor="end" font-size="5.3" fill="#1a1a1a" stroke="#1a1a1a" stroke-width="0.12">98</text>
<text transform="translate(220.55,292.4) rotate(-90)" text-anchor="end" font-size="5.3" fill="#1a1a1a" stroke="#1a1a1a" stroke-width="0.12">105</text>
<text transform="translate(225.14,292.4) rotate(-90)" text-anchor="end" font-size="5.3" fill="#1a1a1a" stroke="#1a1a1a" stroke-width="0.12">112</text>
<text transform="translate(229.72,292.4) rotate(-90)" text-anchor="end" font-size="5.3" fill="#1a1a1a" stroke="#1a1a1a" stroke-width="0.12">119</text>
<text transform="translate(234.31,292.4) rotate(-90)" text-anchor="end" font-size="5.3" fill="#1a1a1a" stroke="#1a1a1a" stroke-width="0.12">126</text>
<text transform="translate(238.9,292.4) rotate(-90)" text-anchor="end" font-size="5.3" fill="#1a1a1a" stroke="#1a1a1a" stroke-width="0.12">133</text>
<text x="197.7" y="167.5" text-anchor="middle" font-size="8.7" fill="#111" stroke="#111" stroke-width="0.18">Pt. no. 6</text>
<polyline points="159,219 172,205 190,214.4 200,230.4 214,225.6 227,208.4 237,224" fill="none" stroke="#AA7232" stroke-width="1.9" stroke-linejoin="miter" stroke-miterlimit="3"/>
<path d="M159,220.4 C159.67,220.93 161.5,225 163,223.6 C164.5,222.2 166.5,215.27 168,212 C169.5,208.73 170.5,207 172,204 C173.5,201 175.5,196 177,194 C178.5,192 179.5,190.67 181,192 C182.5,193.33 184.33,198.5 186,202 C187.67,205.5 188.67,209.17 191,213 C193.33,216.83 197.17,222 200,225 C202.83,228 205,228.9 208,231 C211,233.1 215.67,237.1 218,237.6 C220.33,238.1 220.4,234.17 222,234 C223.6,233.83 225.1,237.2 227.6,236.6 C230.1,236 235.43,231.43 237,230.4" fill="none" stroke="#253A5E" stroke-width="1.6" stroke-dasharray="3.4,1.6"/>
<polygon points="176.6,241.8 178.8,244 176.6,246.2 174.4,244" fill="#5A9A44"/>
<polygon points="199.6,251.8 201.8,254 199.6,256.2 197.4,254" fill="#5A9A44"/>
<polygon points="236.6,285.2 238.8,287.4 236.6,289.6 234.4,287.4" fill="#5A9A44"/>
<line x1="161" y1="186" x2="161" y2="198.3" stroke="#2a2a2a" stroke-width="1.3"/>
<polygon points="158.4,197.8 163.6,197.8 161,203" fill="#111"/>
<line x1="182" y1="172.4" x2="182" y2="183.7" stroke="#4A5F88" stroke-width="1.3"/>
<polygon points="179.4,183.2 184.6,183.2 182,188.4" fill="#2A4169"/>
<path d="M305.4,174.6V287.5H388M388,174.6V287.5" fill="none" stroke="#000" stroke-width="1.7"/>
<text x="299.1" y="179.8" text-anchor="end" font-size="6.8" fill="#1a1a1a" stroke="#1a1a1a" stroke-width="0.16">1.0x10<tspan font-size="3.6" dy="-3">09</tspan></text>
<text x="299.1" y="190.81" text-anchor="end" font-size="6.8" fill="#1a1a1a" stroke="#1a1a1a" stroke-width="0.16">1.0x10<tspan font-size="3.6" dy="-3">08</tspan></text>
<text x="299.1" y="201.82" text-anchor="end" font-size="6.8" fill="#1a1a1a" stroke="#1a1a1a" stroke-width="0.16">1.0x10<tspan font-size="3.6" dy="-3">07</tspan></text>
<text x="299.1" y="212.83" text-anchor="end" font-size="6.8" fill="#1a1a1a" stroke="#1a1a1a" stroke-width="0.16">1.0x10<tspan font-size="3.6" dy="-3">06</tspan></text>
<text x="299.1" y="223.84" text-anchor="end" font-size="6.8" fill="#1a1a1a" stroke="#1a1a1a" stroke-width="0.16">1.0x10<tspan font-size="3.6" dy="-3">05</tspan></text>
<text x="299.1" y="234.85" text-anchor="end" font-size="6.8" fill="#1a1a1a" stroke="#1a1a1a" stroke-width="0.16">1.0x10<tspan font-size="3.6" dy="-3">04</tspan></text>
<text x="299.1" y="245.86" text-anchor="end" font-size="6.8" fill="#1a1a1a" stroke="#1a1a1a" stroke-width="0.16">1.0x10<tspan font-size="3.6" dy="-3">03</tspan></text>
<text x="299.1" y="256.87" text-anchor="end" font-size="6.8" fill="#1a1a1a" stroke="#1a1a1a" stroke-width="0.16">1.0x10<tspan font-size="3.6" dy="-3">02</tspan></text>
<text x="299.1" y="267.88" text-anchor="end" font-size="6.8" fill="#1a1a1a" stroke="#1a1a1a" stroke-width="0.16">1.0x10<tspan font-size="3.6" dy="-3">01</tspan></text>
<text x="299.1" y="278.89" text-anchor="end" font-size="6.8" fill="#1a1a1a" stroke="#1a1a1a" stroke-width="0.16">1.0x10<tspan font-size="3.6" dy="-3">00</tspan></text>
<text x="299.1" y="289.9" text-anchor="end" font-size="6.8" fill="#1a1a1a" stroke="#1a1a1a" stroke-width="0.16">1.0x10<tspan font-size="3.6" dy="-3">-01</tspan></text>
<text x="394.4" y="289.8" font-size="6.4" fill="#1a1a1a" stroke="#1a1a1a" stroke-width="0.16">1</text>
<text x="394.4" y="256.43" font-size="6.4" fill="#1a1a1a" stroke="#1a1a1a" stroke-width="0.16">10</text>
<text x="394.4" y="223.06" font-size="6.4" fill="#1a1a1a" stroke="#1a1a1a" stroke-width="0.16">100</text>
<text x="394.4" y="189.69" font-size="6.4" fill="#1a1a1a" stroke="#1a1a1a" stroke-width="0.16">1000</text>
<path d="M302.1,177.4H305.4M302.1,188.41H305.4M302.1,199.42H305.4M302.1,210.43H305.4M302.1,221.44H305.4M302.1,232.45H305.4M302.1,243.46H305.4M302.1,254.47H305.4M302.1,265.48H305.4M302.1,276.49H305.4M302.1,287.5H305.4M388,287.5H390.9M388,277.45H389.6M388,271.58H389.6M388,267.41H389.6M388,264.18H389.6M388,261.53H389.6M388,259.3H389.6M388,257.36H389.6M388,255.66H389.6M388,254.13H390.9M388,244.08H389.6M388,238.21H389.6M388,234.04H389.6M388,230.81H389.6M388,228.16H389.6M388,225.93H389.6M388,223.99H389.6M388,222.29H389.6M388,220.76H390.9M388,210.71H389.6M388,204.84H389.6M388,200.67H389.6M388,197.44H389.6M388,194.79H389.6M388,192.56H389.6M388,190.62H389.6M388,188.92H389.6M388,187.39H390.9M388,177.34H389.6M307,287.5V290.7M310.76,287.5V290.7M314.52,287.5V290.7M318.29,287.5V290.7M322.05,287.5V290.7M325.81,287.5V290.7M329.57,287.5V290.7M333.33,287.5V290.7M337.1,287.5V290.7M340.86,287.5V290.7M344.62,287.5V290.7M348.38,287.5V290.7M352.14,287.5V290.7M355.9,287.5V290.7M359.67,287.5V290.7M363.43,287.5V290.7M367.19,287.5V290.7M370.95,287.5V290.7M374.71,287.5V290.7M378.48,287.5V290.7M382.24,287.5V290.7M386,287.5V290.7" stroke="#000" stroke-width="1.3" fill="none"/>
<text transform="translate(308.9,292.4) rotate(-90)" text-anchor="end" font-size="5.3" fill="#1a1a1a" stroke="#1a1a1a" stroke-width="0.12">91</text>
<text transform="translate(312.66,292.4) rotate(-90)" text-anchor="end" font-size="5.3" fill="#1a1a1a" stroke="#1a1a1a" stroke-width="0.12">98</text>
<text transform="translate(316.42,292.4) rotate(-90)" text-anchor="end" font-size="5.3" fill="#1a1a1a" stroke="#1a1a1a" stroke-width="0.12">105</text>
<text transform="translate(320.19,292.4) rotate(-90)" text-anchor="end" font-size="5.3" fill="#1a1a1a" stroke="#1a1a1a" stroke-width="0.12">112</text>
<text transform="translate(323.95,292.4) rotate(-90)" text-anchor="end" font-size="5.3" fill="#1a1a1a" stroke="#1a1a1a" stroke-width="0.12">119</text>
<text transform="translate(327.71,292.4) rotate(-90)" text-anchor="end" font-size="5.3" fill="#1a1a1a" stroke="#1a1a1a" stroke-width="0.12">126</text>
<text transform="translate(331.47,292.4) rotate(-90)" text-anchor="end" font-size="5.3" fill="#1a1a1a" stroke="#1a1a1a" stroke-width="0.12">133</text>
<text transform="translate(335.23,292.4) rotate(-90)" text-anchor="end" font-size="5.3" fill="#1a1a1a" stroke="#1a1a1a" stroke-width="0.12">140</text>
<text transform="translate(339,292.4) rotate(-90)" text-anchor="end" font-size="5.3" fill="#1a1a1a" stroke="#1a1a1a" stroke-width="0.12">147</text>
<text transform="translate(342.76,292.4) rotate(-90)" text-anchor="end" font-size="5.3" fill="#1a1a1a" stroke="#1a1a1a" stroke-width="0.12">154</text>
<text transform="translate(346.52,292.4) rotate(-90)" text-anchor="end" font-size="5.3" fill="#1a1a1a" stroke="#1a1a1a" stroke-width="0.12">161</text>
<text transform="translate(350.28,292.4) rotate(-90)" text-anchor="end" font-size="5.3" fill="#1a1a1a" stroke="#1a1a1a" stroke-width="0.12">168</text>
<text transform="translate(354.04,292.4) rotate(-90)" text-anchor="end" font-size="5.3" fill="#1a1a1a" stroke="#1a1a1a" stroke-width="0.12">175</text>
<text transform="translate(357.8,292.4) rotate(-90)" text-anchor="end" font-size="5.3" fill="#1a1a1a" stroke="#1a1a1a" stroke-width="0.12">182</text>
<text transform="translate(361.57,292.4) rotate(-90)" text-anchor="end" font-size="5.3" fill="#1a1a1a" stroke="#1a1a1a" stroke-width="0.12">189</text>
<text transform="translate(365.33,292.4) rotate(-90)" text-anchor="end" font-size="5.3" fill="#1a1a1a" stroke="#1a1a1a" stroke-width="0.12">196</text>
<text transform="translate(369.09,292.4) rotate(-90)" text-anchor="end" font-size="5.3" fill="#1a1a1a" stroke="#1a1a1a" stroke-width="0.12">203</text>
<text transform="translate(372.85,292.4) rotate(-90)" text-anchor="end" font-size="5.3" fill="#1a1a1a" stroke="#1a1a1a" stroke-width="0.12">210</text>
<text transform="translate(376.61,292.4) rotate(-90)" text-anchor="end" font-size="5.3" fill="#1a1a1a" stroke="#1a1a1a" stroke-width="0.12">217</text>
<text transform="translate(380.38,292.4) rotate(-90)" text-anchor="end" font-size="5.3" fill="#1a1a1a" stroke="#1a1a1a" stroke-width="0.12">224</text>
<text transform="translate(384.14,292.4) rotate(-90)" text-anchor="end" font-size="5.3" fill="#1a1a1a" stroke="#1a1a1a" stroke-width="0.12">231</text>
<text transform="translate(387.9,292.4) rotate(-90)" text-anchor="end" font-size="5.3" fill="#1a1a1a" stroke="#1a1a1a" stroke-width="0.12">238</text>
<text x="346.3" y="167.8" text-anchor="middle" font-size="8.7" fill="#111" stroke="#111" stroke-width="0.18">Pt. no. 7</text>
<polyline points="306.4,210.4 327.6,199 340,211 356.4,189.4 373,195 378,195.4 385.6,197.6" fill="none" stroke="#AA7232" stroke-width="1.9" stroke-linejoin="miter" stroke-miterlimit="3"/>
<polyline points="306.4,250 336,235.6 340,232.4 344.3,226 348,222.4 352,217.8 356.8,222.3 360.4,220.6 363.6,220.4 369.3,214.9 373.2,213 377,213.5 381.3,208.2 386,216.3" fill="none" stroke="#921535" stroke-width="1.9" stroke-linejoin="miter" stroke-miterlimit="3"/>
<line x1="310.4" y1="224.4" x2="310.4" y2="236.3" stroke="#2a2a2a" stroke-width="1.3"/>
<polygon points="307.8,235.8 313,235.8 310.4,241" fill="#111"/>
<line x1="350.5" y1="200" x2="350.5" y2="212.3" stroke="#4A5F88" stroke-width="1.3"/>
<polygon points="347.9,211.8 353.1,211.8 350.5,217" fill="#2A4169"/>
<path d="M453.5,172.4V287.5H480.6M480.6,172.4V287.5" fill="none" stroke="#000" stroke-width="1.7"/>
<text x="447.2" y="177.7" text-anchor="end" font-size="6.8" fill="#1a1a1a" stroke="#1a1a1a" stroke-width="0.16">1.0x10<tspan font-size="3.6" dy="-3">09</tspan></text>
<text x="447.2" y="188.92" text-anchor="end" font-size="6.8" fill="#1a1a1a" stroke="#1a1a1a" stroke-width="0.16">1.0x10<tspan font-size="3.6" dy="-3">08</tspan></text>
<text x="447.2" y="200.14" text-anchor="end" font-size="6.8" fill="#1a1a1a" stroke="#1a1a1a" stroke-width="0.16">1.0x10<tspan font-size="3.6" dy="-3">07</tspan></text>
<text x="447.2" y="211.36" text-anchor="end" font-size="6.8" fill="#1a1a1a" stroke="#1a1a1a" stroke-width="0.16">1.0x10<tspan font-size="3.6" dy="-3">06</tspan></text>
<text x="447.2" y="222.58" text-anchor="end" font-size="6.8" fill="#1a1a1a" stroke="#1a1a1a" stroke-width="0.16">1.0x10<tspan font-size="3.6" dy="-3">05</tspan></text>
<text x="447.2" y="233.8" text-anchor="end" font-size="6.8" fill="#1a1a1a" stroke="#1a1a1a" stroke-width="0.16">1.0x10<tspan font-size="3.6" dy="-3">04</tspan></text>
<text x="447.2" y="245.02" text-anchor="end" font-size="6.8" fill="#1a1a1a" stroke="#1a1a1a" stroke-width="0.16">1.0x10<tspan font-size="3.6" dy="-3">03</tspan></text>
<text x="447.2" y="256.24" text-anchor="end" font-size="6.8" fill="#1a1a1a" stroke="#1a1a1a" stroke-width="0.16">1.0x10<tspan font-size="3.6" dy="-3">02</tspan></text>
<text x="447.2" y="267.46" text-anchor="end" font-size="6.8" fill="#1a1a1a" stroke="#1a1a1a" stroke-width="0.16">1.0x10<tspan font-size="3.6" dy="-3">01</tspan></text>
<text x="447.2" y="278.68" text-anchor="end" font-size="6.8" fill="#1a1a1a" stroke="#1a1a1a" stroke-width="0.16">1.0x10<tspan font-size="3.6" dy="-3">00</tspan></text>
<text x="447.2" y="289.9" text-anchor="end" font-size="6.8" fill="#1a1a1a" stroke="#1a1a1a" stroke-width="0.16">1.0x10<tspan font-size="3.6" dy="-3">-01</tspan></text>
<text x="487" y="289.8" font-size="6.4" fill="#1a1a1a" stroke="#1a1a1a" stroke-width="0.16">1</text>
<text x="487" y="255.83" font-size="6.4" fill="#1a1a1a" stroke="#1a1a1a" stroke-width="0.16">10</text>
<text x="487" y="221.86" font-size="6.4" fill="#1a1a1a" stroke="#1a1a1a" stroke-width="0.16">100</text>
<text x="487" y="187.89" font-size="6.4" fill="#1a1a1a" stroke="#1a1a1a" stroke-width="0.16">1000</text>
<path d="M450.2,175.3H453.5M450.2,186.52H453.5M450.2,197.74H453.5M450.2,208.96H453.5M450.2,220.18H453.5M450.2,231.4H453.5M450.2,242.62H453.5M450.2,253.84H453.5M450.2,265.06H453.5M450.2,276.28H453.5M450.2,287.5H453.5M480.6,287.5H483.5M480.6,277.27H482.2M480.6,271.29H482.2M480.6,267.05H482.2M480.6,263.76H482.2M480.6,261.07H482.2M480.6,258.79H482.2M480.6,256.82H482.2M480.6,255.08H482.2M480.6,253.53H483.5M480.6,243.3H482.2M480.6,237.32H482.2M480.6,233.08H482.2M480.6,229.79H482.2M480.6,227.1H482.2M480.6,224.82H482.2M480.6,222.85H482.2M480.6,221.11H482.2M480.6,219.56H483.5M480.6,209.33H482.2M480.6,203.35H482.2M480.6,199.11H482.2M480.6,195.82H482.2M480.6,193.13H482.2M480.6,190.85H482.2M480.6,188.88H482.2M480.6,187.14H482.2M480.6,185.59H483.5M480.6,175.36H482.2M456.5,287.5V290.7M461.8,287.5V290.7M467.1,287.5V290.7M472.4,287.5V290.7M477.7,287.5V290.7" stroke="#000" stroke-width="1.3" fill="none"/>
<text transform="translate(458.4,292.4) rotate(-90)" text-anchor="end" font-size="5.3" fill="#1a1a1a" stroke="#1a1a1a" stroke-width="0.12">0</text>
<text transform="translate(463.7,292.4) rotate(-90)" text-anchor="end" font-size="5.3" fill="#1a1a1a" stroke="#1a1a1a" stroke-width="0.12">7</text>
<text transform="translate(469,292.4) rotate(-90)" text-anchor="end" font-size="5.3" fill="#1a1a1a" stroke="#1a1a1a" stroke-width="0.12">14</text>
<text transform="translate(474.3,292.4) rotate(-90)" text-anchor="end" font-size="5.3" fill="#1a1a1a" stroke="#1a1a1a" stroke-width="0.12">21</text>
<text transform="translate(479.6,292.4) rotate(-90)" text-anchor="end" font-size="5.3" fill="#1a1a1a" stroke="#1a1a1a" stroke-width="0.12">28</text>
<text x="467" y="167.7" text-anchor="middle" font-size="8.7" fill="#111" stroke="#111" stroke-width="0.18">Pt. no. 8</text>
<polyline points="456,254 462,254 467,224 478,207" fill="none" stroke="#AA7232" stroke-width="1.9" stroke-linejoin="miter" stroke-miterlimit="3"/>
<polyline points="456,228.4 462,217 467,224.4 472.4,240.4 478,277" fill="none" stroke="#253A5E" stroke-width="1.9" stroke-linejoin="miter" stroke-miterlimit="3"/>
<polygon points="478,230.8 480.2,233 478,235.2 475.8,233" fill="#5A9A44"/>
<line x1="458" y1="191" x2="458" y2="202.9" stroke="#2a2a2a" stroke-width="1.3"/>
<polygon points="455.4,202.4 460.6,202.4 458,207.6" fill="#111"/>
<line x1="465.6" y1="193.6" x2="465.6" y2="205.7" stroke="#4A5F88" stroke-width="1.3"/>
<polygon points="463,205.2 468.2,205.2 465.6,210.4" fill="#2A4169"/>
<path d="M50.8,329.5V442.3H124.2M124.2,329.5V442.3" fill="none" stroke="#000" stroke-width="1.7"/>
<text x="44.5" y="334.5" text-anchor="end" font-size="6.8" fill="#1a1a1a" stroke="#1a1a1a" stroke-width="0.16">1.0x10<tspan font-size="3.6" dy="-3">09</tspan></text>
<text x="44.5" y="345.52" text-anchor="end" font-size="6.8" fill="#1a1a1a" stroke="#1a1a1a" stroke-width="0.16">1.0x10<tspan font-size="3.6" dy="-3">08</tspan></text>
<text x="44.5" y="356.54" text-anchor="end" font-size="6.8" fill="#1a1a1a" stroke="#1a1a1a" stroke-width="0.16">1.0x10<tspan font-size="3.6" dy="-3">07</tspan></text>
<text x="44.5" y="367.56" text-anchor="end" font-size="6.8" fill="#1a1a1a" stroke="#1a1a1a" stroke-width="0.16">1.0x10<tspan font-size="3.6" dy="-3">06</tspan></text>
<text x="44.5" y="378.58" text-anchor="end" font-size="6.8" fill="#1a1a1a" stroke="#1a1a1a" stroke-width="0.16">1.0x10<tspan font-size="3.6" dy="-3">05</tspan></text>
<text x="44.5" y="389.6" text-anchor="end" font-size="6.8" fill="#1a1a1a" stroke="#1a1a1a" stroke-width="0.16">1.0x10<tspan font-size="3.6" dy="-3">04</tspan></text>
<text x="44.5" y="400.62" text-anchor="end" font-size="6.8" fill="#1a1a1a" stroke="#1a1a1a" stroke-width="0.16">1.0x10<tspan font-size="3.6" dy="-3">03</tspan></text>
<text x="44.5" y="411.64" text-anchor="end" font-size="6.8" fill="#1a1a1a" stroke="#1a1a1a" stroke-width="0.16">1.0x10<tspan font-size="3.6" dy="-3">02</tspan></text>
<text x="44.5" y="422.66" text-anchor="end" font-size="6.8" fill="#1a1a1a" stroke="#1a1a1a" stroke-width="0.16">1.0x10<tspan font-size="3.6" dy="-3">01</tspan></text>
<text x="44.5" y="433.68" text-anchor="end" font-size="6.8" fill="#1a1a1a" stroke="#1a1a1a" stroke-width="0.16">1.0x10<tspan font-size="3.6" dy="-3">00</tspan></text>
<text x="44.5" y="444.7" text-anchor="end" font-size="6.8" fill="#1a1a1a" stroke="#1a1a1a" stroke-width="0.16">1.0x10<tspan font-size="3.6" dy="-3">-01</tspan></text>
<text x="130.6" y="444.6" font-size="6.4" fill="#1a1a1a" stroke="#1a1a1a" stroke-width="0.16">1</text>
<text x="130.6" y="411.3" font-size="6.4" fill="#1a1a1a" stroke="#1a1a1a" stroke-width="0.16">10</text>
<text x="130.6" y="378" font-size="6.4" fill="#1a1a1a" stroke="#1a1a1a" stroke-width="0.16">100</text>
<text x="130.6" y="344.7" font-size="6.4" fill="#1a1a1a" stroke="#1a1a1a" stroke-width="0.16">1000</text>
<path d="M47.5,332.1H50.8M47.5,343.12H50.8M47.5,354.14H50.8M47.5,365.16H50.8M47.5,376.18H50.8M47.5,387.2H50.8M47.5,398.22H50.8M47.5,409.24H50.8M47.5,420.26H50.8M47.5,431.28H50.8M47.5,442.3H50.8M124.2,442.3H127.1M124.2,432.28H125.8M124.2,426.41H125.8M124.2,422.25H125.8M124.2,419.02H125.8M124.2,416.39H125.8M124.2,414.16H125.8M124.2,412.23H125.8M124.2,410.52H125.8M124.2,409H127.1M124.2,398.98H125.8M124.2,393.11H125.8M124.2,388.95H125.8M124.2,385.72H125.8M124.2,383.09H125.8M124.2,380.86H125.8M124.2,378.93H125.8M124.2,377.22H125.8M124.2,375.7H127.1M124.2,365.68H125.8M124.2,359.81H125.8M124.2,355.65H125.8M124.2,352.42H125.8M124.2,349.79H125.8M124.2,347.56H125.8M124.2,345.63H125.8M124.2,343.92H125.8M124.2,342.4H127.1M124.2,332.38H125.8M53.2,442.3V445.5M58.89,442.3V445.5M64.58,442.3V445.5M70.28,442.3V445.5M75.97,442.3V445.5M81.66,442.3V445.5M87.35,442.3V445.5M93.04,442.3V445.5M98.73,442.3V445.5M104.42,442.3V445.5M110.12,442.3V445.5M115.81,442.3V445.5M121.5,442.3V445.5" stroke="#000" stroke-width="1.3" fill="none"/>
<text transform="translate(55.1,447.2) rotate(-90)" text-anchor="end" font-size="5.3" fill="#1a1a1a" stroke="#1a1a1a" stroke-width="0.12">42</text>
<text transform="translate(60.79,447.2) rotate(-90)" text-anchor="end" font-size="5.3" fill="#1a1a1a" stroke="#1a1a1a" stroke-width="0.12">49</text>
<text transform="translate(66.48,447.2) rotate(-90)" text-anchor="end" font-size="5.3" fill="#1a1a1a" stroke="#1a1a1a" stroke-width="0.12">56</text>
<text transform="translate(72.18,447.2) rotate(-90)" text-anchor="end" font-size="5.3" fill="#1a1a1a" stroke="#1a1a1a" stroke-width="0.12">63</text>
<text transform="translate(77.87,447.2) rotate(-90)" text-anchor="end" font-size="5.3" fill="#1a1a1a" stroke="#1a1a1a" stroke-width="0.12">70</text>
<text transform="translate(83.56,447.2) rotate(-90)" text-anchor="end" font-size="5.3" fill="#1a1a1a" stroke="#1a1a1a" stroke-width="0.12">77</text>
<text transform="translate(89.25,447.2) rotate(-90)" text-anchor="end" font-size="5.3" fill="#1a1a1a" stroke="#1a1a1a" stroke-width="0.12">84</text>
<text transform="translate(94.94,447.2) rotate(-90)" text-anchor="end" font-size="5.3" fill="#1a1a1a" stroke="#1a1a1a" stroke-width="0.12">91</text>
<text transform="translate(100.63,447.2) rotate(-90)" text-anchor="end" font-size="5.3" fill="#1a1a1a" stroke="#1a1a1a" stroke-width="0.12">98</text>
<text transform="translate(106.33,447.2) rotate(-90)" text-anchor="end" font-size="5.3" fill="#1a1a1a" stroke="#1a1a1a" stroke-width="0.12">105</text>
<text transform="translate(112.02,447.2) rotate(-90)" text-anchor="end" font-size="5.3" fill="#1a1a1a" stroke="#1a1a1a" stroke-width="0.12">112</text>
<text transform="translate(117.71,447.2) rotate(-90)" text-anchor="end" font-size="5.3" fill="#1a1a1a" stroke="#1a1a1a" stroke-width="0.12">119</text>
<text transform="translate(123.4,447.2) rotate(-90)" text-anchor="end" font-size="5.3" fill="#1a1a1a" stroke="#1a1a1a" stroke-width="0.12">126</text>
<text x="87.9" y="321" text-anchor="middle" font-size="8.7" fill="#111" stroke="#111" stroke-width="0.18">Pt. no. 9</text>
<polyline points="53.4,356.6 59,368.4 64.6,365.6 70.4,350.4 76,362.6 81.6,358 87.4,355.6 93,354 104.4,352 115.6,354.4 121.4,359" fill="none" stroke="#AA7232" stroke-width="1.9" stroke-linejoin="miter" stroke-miterlimit="3"/>
<polyline points="53.4,400.4 59,379.6 64.6,382.4 70.4,379 76,376 81.6,380 87.4,374.6 93,374 98.6,382 104.4,388 110,390.4 115.6,400 121.4,431.4" fill="none" stroke="#921535" stroke-width="1.9" stroke-linejoin="miter" stroke-miterlimit="3"/>
<polygon points="121,378.2 123.2,380.4 121,382.6 118.8,380.4" fill="#5A9A44"/>
<line x1="55" y1="367" x2="55" y2="378.9" stroke="#2a2a2a" stroke-width="1.3"/>
<polygon points="52.4,378.4 57.6,378.4 55,383.6" fill="#111"/>
<line x1="83" y1="359" x2="83" y2="370.3" stroke="#4A5F88" stroke-width="1.3"/>
<polygon points="80.4,369.8 85.6,369.8 83,375" fill="#2A4169"/>
<path d="M190.8,329V442.3H270.8M270.8,329V442.3" fill="none" stroke="#000" stroke-width="1.7"/>
<text x="184.5" y="334.5" text-anchor="end" font-size="6.8" fill="#1a1a1a" stroke="#1a1a1a" stroke-width="0.16">1.0x10<tspan font-size="3.6" dy="-3">09</tspan></text>
<text x="184.5" y="345.52" text-anchor="end" font-size="6.8" fill="#1a1a1a" stroke="#1a1a1a" stroke-width="0.16">1.0x10<tspan font-size="3.6" dy="-3">08</tspan></text>
<text x="184.5" y="356.54" text-anchor="end" font-size="6.8" fill="#1a1a1a" stroke="#1a1a1a" stroke-width="0.16">1.0x10<tspan font-size="3.6" dy="-3">07</tspan></text>
<text x="184.5" y="367.56" text-anchor="end" font-size="6.8" fill="#1a1a1a" stroke="#1a1a1a" stroke-width="0.16">1.0x10<tspan font-size="3.6" dy="-3">06</tspan></text>
<text x="184.5" y="378.58" text-anchor="end" font-size="6.8" fill="#1a1a1a" stroke="#1a1a1a" stroke-width="0.16">1.0x10<tspan font-size="3.6" dy="-3">05</tspan></text>
<text x="184.5" y="389.6" text-anchor="end" font-size="6.8" fill="#1a1a1a" stroke="#1a1a1a" stroke-width="0.16">1.0x10<tspan font-size="3.6" dy="-3">04</tspan></text>
<text x="184.5" y="400.62" text-anchor="end" font-size="6.8" fill="#1a1a1a" stroke="#1a1a1a" stroke-width="0.16">1.0x10<tspan font-size="3.6" dy="-3">03</tspan></text>
<text x="184.5" y="411.64" text-anchor="end" font-size="6.8" fill="#1a1a1a" stroke="#1a1a1a" stroke-width="0.16">1.0x10<tspan font-size="3.6" dy="-3">02</tspan></text>
<text x="184.5" y="422.66" text-anchor="end" font-size="6.8" fill="#1a1a1a" stroke="#1a1a1a" stroke-width="0.16">1.0x10<tspan font-size="3.6" dy="-3">01</tspan></text>
<text x="184.5" y="433.68" text-anchor="end" font-size="6.8" fill="#1a1a1a" stroke="#1a1a1a" stroke-width="0.16">1.0x10<tspan font-size="3.6" dy="-3">00</tspan></text>
<text x="184.5" y="444.7" text-anchor="end" font-size="6.8" fill="#1a1a1a" stroke="#1a1a1a" stroke-width="0.16">1.0x10<tspan font-size="3.6" dy="-3">-01</tspan></text>
<text x="277.2" y="444.6" font-size="6.4" fill="#1a1a1a" stroke="#1a1a1a" stroke-width="0.16">1</text>
<text x="277.2" y="413.95" font-size="6.4" fill="#1a1a1a" stroke="#1a1a1a" stroke-width="0.16">10</text>
<text x="277.2" y="383.3" font-size="6.4" fill="#1a1a1a" stroke="#1a1a1a" stroke-width="0.16">100</text>
<text x="277.2" y="352.65" font-size="6.4" fill="#1a1a1a" stroke="#1a1a1a" stroke-width="0.16">1000</text>
<path d="M187.5,332.1H190.8M187.5,343.12H190.8M187.5,354.14H190.8M187.5,365.16H190.8M187.5,376.18H190.8M187.5,387.2H190.8M187.5,398.22H190.8M187.5,409.24H190.8M187.5,420.26H190.8M187.5,431.28H190.8M187.5,442.3H190.8M270.8,442.3H273.7M270.8,433.07H272.4M270.8,427.68H272.4M270.8,423.85H272.4M270.8,420.88H272.4M270.8,418.45H272.4M270.8,416.4H272.4M270.8,414.62H272.4M270.8,413.05H272.4M270.8,411.65H273.7M270.8,402.42H272.4M270.8,397.03H272.4M270.8,393.2H272.4M270.8,390.23H272.4M270.8,387.8H272.4M270.8,385.75H272.4M270.8,383.97H272.4M270.8,382.4H272.4M270.8,381H273.7M270.8,371.77H272.4M270.8,366.38H272.4M270.8,362.55H272.4M270.8,359.58H272.4M270.8,357.15H272.4M270.8,355.1H272.4M270.8,353.32H272.4M270.8,351.75H272.4M270.8,350.35H273.7M270.8,341.12H272.4M270.8,335.73H272.4M270.8,331.9H272.4M270.8,328.93H272.4M192.4,442.3V445.5M197.18,442.3V445.5M201.95,442.3V445.5M206.72,442.3V445.5M211.5,442.3V445.5M216.28,442.3V445.5M221.05,442.3V445.5M225.83,442.3V445.5M230.6,442.3V445.5M235.38,442.3V445.5M240.15,442.3V445.5M244.93,442.3V445.5M249.7,442.3V445.5M254.48,442.3V445.5M259.25,442.3V445.5M264.02,442.3V445.5M268.8,442.3V445.5" stroke="#000" stroke-width="1.3" fill="none"/>
<text transform="translate(194.3,447.2) rotate(-90)" text-anchor="end" font-size="5.3" fill="#1a1a1a" stroke="#1a1a1a" stroke-width="0.12">21</text>
<text transform="translate(199.08,447.2) rotate(-90)" text-anchor="end" font-size="5.3" fill="#1a1a1a" stroke="#1a1a1a" stroke-width="0.12">28</text>
<text transform="translate(203.85,447.2) rotate(-90)" text-anchor="end" font-size="5.3" fill="#1a1a1a" stroke="#1a1a1a" stroke-width="0.12">35</text>
<text transform="translate(208.62,447.2) rotate(-90)" text-anchor="end" font-size="5.3" fill="#1a1a1a" stroke="#1a1a1a" stroke-width="0.12">42</text>
<text transform="translate(213.4,447.2) rotate(-90)" text-anchor="end" font-size="5.3" fill="#1a1a1a" stroke="#1a1a1a" stroke-width="0.12">49</text>
<text transform="translate(218.18,447.2) rotate(-90)" text-anchor="end" font-size="5.3" fill="#1a1a1a" stroke="#1a1a1a" stroke-width="0.12">56</text>
<text transform="translate(222.95,447.2) rotate(-90)" text-anchor="end" font-size="5.3" fill="#1a1a1a" stroke="#1a1a1a" stroke-width="0.12">63</text>
<text transform="translate(227.73,447.2) rotate(-90)" text-anchor="end" font-size="5.3" fill="#1a1a1a" stroke="#1a1a1a" stroke-width="0.12">70</text>
<text transform="translate(232.5,447.2) rotate(-90)" text-anchor="end" font-size="5.3" fill="#1a1a1a" stroke="#1a1a1a" stroke-width="0.12">77</text>
<text transform="translate(237.28,447.2) rotate(-90)" text-anchor="end" font-size="5.3" fill="#1a1a1a" stroke="#1a1a1a" stroke-width="0.12">84</text>
<text transform="translate(242.05,447.2) rotate(-90)" text-anchor="end" font-size="5.3" fill="#1a1a1a" stroke="#1a1a1a" stroke-width="0.12">91</text>
<text transform="translate(246.83,447.2) rotate(-90)" text-anchor="end" font-size="5.3" fill="#1a1a1a" stroke="#1a1a1a" stroke-width="0.12">98</text>
<text transform="translate(251.6,447.2) rotate(-90)" text-anchor="end" font-size="5.3" fill="#1a1a1a" stroke="#1a1a1a" stroke-width="0.12">105</text>
<text transform="translate(256.38,447.2) rotate(-90)" text-anchor="end" font-size="5.3" fill="#1a1a1a" stroke="#1a1a1a" stroke-width="0.12">112</text>
<text transform="translate(261.15,447.2) rotate(-90)" text-anchor="end" font-size="5.3" fill="#1a1a1a" stroke="#1a1a1a" stroke-width="0.12">119</text>
<text transform="translate(265.92,447.2) rotate(-90)" text-anchor="end" font-size="5.3" fill="#1a1a1a" stroke="#1a1a1a" stroke-width="0.12">126</text>
<text transform="translate(270.7,447.2) rotate(-90)" text-anchor="end" font-size="5.3" fill="#1a1a1a" stroke="#1a1a1a" stroke-width="0.12">133</text>
<text x="230.8" y="321.2" text-anchor="middle" font-size="8.7" fill="#111" stroke="#111" stroke-width="0.18">Pt. no. 10</text>
<path d="M193.3,389.4 C194.03,388.75 196.17,386.95 197.7,385.5 C199.23,384.05 200.97,382.23 202.5,380.7 C204.03,379.17 205.45,376.63 206.9,376.3 C208.35,375.97 209.68,377.82 211.2,378.7 C212.72,379.58 214.38,380.63 216,381.6 C217.62,382.57 219.43,383.2 220.9,384.5 C222.37,385.8 223.62,387.48 224.8,389.4 C225.98,391.32 226.97,392.9 228,396 C229.03,399.1 229.75,402.08 231,408 C232.25,413.92 234.75,427.58 235.5,431.5" fill="none" stroke="#669C4C" stroke-width="1.45" stroke-dasharray="2.8,1.6"/>
<polyline points="194.3,365.7 197.7,357.4 202.5,373.9 207,370 212,363 216,355.5 221.4,345.8 224.3,349.7 230.6,341 235,339 240,346 245,342 250,340.4 255,339 259.6,335.6 264,332.4 269,336" fill="none" stroke="#AA7232" stroke-width="1.9" stroke-linejoin="miter" stroke-miterlimit="3"/>
<polyline points="203.5,374.4 207.4,367.6 211.7,377.3 216.6,371.5 220.9,358.9 224.3,350.6 228,345.8 230.6,343 235,347 240,362 244.4,372.4 249,372.4 255,374 259.6,374.4 264,384.4 269,431" fill="none" stroke="#253A5E" stroke-width="1.9" stroke-linejoin="miter" stroke-miterlimit="3"/>
<polygon points="228,343.4 230.2,345.6 228,347.8 225.8,345.6" fill="#5A9A44"/>
<polygon points="244.4,344.8 246.6,347 244.4,349.2 242.2,347" fill="#5A9A44"/>
<polygon points="254.4,336.8 256.6,339 254.4,341.2 252.2,339" fill="#5A9A44"/>
<line x1="194" y1="365.7" x2="194" y2="376.3" stroke="#2a2a2a" stroke-width="1.3"/>
<polygon points="191.4,375.8 196.6,375.8 194,381" fill="#111"/>
<line x1="259" y1="355" x2="259" y2="366.3" stroke="#4A5F88" stroke-width="1.3"/>
<polygon points="256.4,365.8 261.6,365.8 259,371" fill="#2A4169"/>
<path d="M337.5,327.3V442.3H368.8M368.8,327.3V442.3" fill="none" stroke="#000" stroke-width="1.7"/>
<text x="331.2" y="332.1" text-anchor="end" font-size="6.8" fill="#1a1a1a" stroke="#1a1a1a" stroke-width="0.16">1.0x10<tspan font-size="3.6" dy="-3">09</tspan></text>
<text x="331.2" y="343.36" text-anchor="end" font-size="6.8" fill="#1a1a1a" stroke="#1a1a1a" stroke-width="0.16">1.0x10<tspan font-size="3.6" dy="-3">08</tspan></text>
<text x="331.2" y="354.62" text-anchor="end" font-size="6.8" fill="#1a1a1a" stroke="#1a1a1a" stroke-width="0.16">1.0x10<tspan font-size="3.6" dy="-3">07</tspan></text>
<text x="331.2" y="365.88" text-anchor="end" font-size="6.8" fill="#1a1a1a" stroke="#1a1a1a" stroke-width="0.16">1.0x10<tspan font-size="3.6" dy="-3">06</tspan></text>
<text x="331.2" y="377.14" text-anchor="end" font-size="6.8" fill="#1a1a1a" stroke="#1a1a1a" stroke-width="0.16">1.0x10<tspan font-size="3.6" dy="-3">05</tspan></text>
<text x="331.2" y="388.4" text-anchor="end" font-size="6.8" fill="#1a1a1a" stroke="#1a1a1a" stroke-width="0.16">1.0x10<tspan font-size="3.6" dy="-3">04</tspan></text>
<text x="331.2" y="399.66" text-anchor="end" font-size="6.8" fill="#1a1a1a" stroke="#1a1a1a" stroke-width="0.16">1.0x10<tspan font-size="3.6" dy="-3">03</tspan></text>
<text x="331.2" y="410.92" text-anchor="end" font-size="6.8" fill="#1a1a1a" stroke="#1a1a1a" stroke-width="0.16">1.0x10<tspan font-size="3.6" dy="-3">02</tspan></text>
<text x="331.2" y="422.18" text-anchor="end" font-size="6.8" fill="#1a1a1a" stroke="#1a1a1a" stroke-width="0.16">1.0x10<tspan font-size="3.6" dy="-3">01</tspan></text>
<text x="331.2" y="433.44" text-anchor="end" font-size="6.8" fill="#1a1a1a" stroke="#1a1a1a" stroke-width="0.16">1.0x10<tspan font-size="3.6" dy="-3">00</tspan></text>
<text x="331.2" y="444.7" text-anchor="end" font-size="6.8" fill="#1a1a1a" stroke="#1a1a1a" stroke-width="0.16">1.0x10<tspan font-size="3.6" dy="-3">-01</tspan></text>
<text x="375.2" y="444.6" font-size="6.4" fill="#1a1a1a" stroke="#1a1a1a" stroke-width="0.16">1</text>
<text x="375.2" y="413.6" font-size="6.4" fill="#1a1a1a" stroke="#1a1a1a" stroke-width="0.16">10</text>
<text x="375.2" y="382.6" font-size="6.4" fill="#1a1a1a" stroke="#1a1a1a" stroke-width="0.16">100</text>
<text x="375.2" y="351.6" font-size="6.4" fill="#1a1a1a" stroke="#1a1a1a" stroke-width="0.16">1000</text>
<path d="M334.2,329.7H337.5M334.2,340.96H337.5M334.2,352.22H337.5M334.2,363.48H337.5M334.2,374.74H337.5M334.2,386H337.5M334.2,397.26H337.5M334.2,408.52H337.5M334.2,419.78H337.5M334.2,431.04H337.5M334.2,442.3H337.5M368.8,442.3H371.7M368.8,432.97H370.4M368.8,427.51H370.4M368.8,423.64H370.4M368.8,420.63H370.4M368.8,418.18H370.4M368.8,416.1H370.4M368.8,414.3H370.4M368.8,412.72H370.4M368.8,411.3H371.7M368.8,401.97H370.4M368.8,396.51H370.4M368.8,392.64H370.4M368.8,389.63H370.4M368.8,387.18H370.4M368.8,385.1H370.4M368.8,383.3H370.4M368.8,381.72H370.4M368.8,380.3H371.7M368.8,370.97H370.4M368.8,365.51H370.4M368.8,361.64H370.4M368.8,358.63H370.4M368.8,356.18H370.4M368.8,354.1H370.4M368.8,352.3H370.4M368.8,350.72H370.4M368.8,349.3H371.7M368.8,339.97H370.4M368.8,334.51H370.4M368.8,330.64H370.4M368.8,327.63H370.4M340.4,442.3V445.5M346.75,442.3V445.5M353.1,442.3V445.5M359.45,442.3V445.5M365.8,442.3V445.5" stroke="#000" stroke-width="1.3" fill="none"/>
<text transform="translate(342.3,447.2) rotate(-90)" text-anchor="end" font-size="5.3" fill="#1a1a1a" stroke="#1a1a1a" stroke-width="0.12">35</text>
<text transform="translate(348.65,447.2) rotate(-90)" text-anchor="end" font-size="5.3" fill="#1a1a1a" stroke="#1a1a1a" stroke-width="0.12">42</text>
<text transform="translate(355,447.2) rotate(-90)" text-anchor="end" font-size="5.3" fill="#1a1a1a" stroke="#1a1a1a" stroke-width="0.12">49</text>
<text transform="translate(361.35,447.2) rotate(-90)" text-anchor="end" font-size="5.3" fill="#1a1a1a" stroke="#1a1a1a" stroke-width="0.12">56</text>
<text transform="translate(367.7,447.2) rotate(-90)" text-anchor="end" font-size="5.3" fill="#1a1a1a" stroke="#1a1a1a" stroke-width="0.12">63</text>
<text x="352.6" y="321.5" text-anchor="middle" font-size="8.7" fill="#111" stroke="#111" stroke-width="0.18">Pt. no. 11</text>
<polyline points="340,350 347,351.6 359.6,335 366.4,338" fill="none" stroke="#AA7232" stroke-width="1.9" stroke-linejoin="miter" stroke-miterlimit="3"/>
<polyline points="340,388 347,387 353.6,380.4 359.6,382.4 366,431" fill="none" stroke="#253A5E" stroke-width="1.9" stroke-linejoin="miter" stroke-miterlimit="3"/>
<polygon points="365.6,382.4 367.8,384.6 365.6,386.8 363.4,384.6" fill="#5A9A44"/>
<line x1="342.4" y1="363.6" x2="342.4" y2="375.3" stroke="#2a2a2a" stroke-width="1.3"/>
<polygon points="339.8,374.8 345,374.8 342.4,380" fill="#111"/>
<line x1="357.6" y1="361.6" x2="357.6" y2="373.7" stroke="#4A5F88" stroke-width="1.3"/>
<polygon points="355,373.2 360.2,373.2 357.6,378.4" fill="#2A4169"/>
<path d="M435.3,326V442.3H456.7M456.7,326V442.3" fill="none" stroke="#000" stroke-width="1.7"/>
<text x="429" y="330.9" text-anchor="end" font-size="6.8" fill="#1a1a1a" stroke="#1a1a1a" stroke-width="0.16">1.0x10<tspan font-size="3.6" dy="-3">09</tspan></text>
<text x="429" y="342.28" text-anchor="end" font-size="6.8" fill="#1a1a1a" stroke="#1a1a1a" stroke-width="0.16">1.0x10<tspan font-size="3.6" dy="-3">08</tspan></text>
<text x="429" y="353.66" text-anchor="end" font-size="6.8" fill="#1a1a1a" stroke="#1a1a1a" stroke-width="0.16">1.0x10<tspan font-size="3.6" dy="-3">07</tspan></text>
<text x="429" y="365.04" text-anchor="end" font-size="6.8" fill="#1a1a1a" stroke="#1a1a1a" stroke-width="0.16">1.0x10<tspan font-size="3.6" dy="-3">06</tspan></text>
<text x="429" y="376.42" text-anchor="end" font-size="6.8" fill="#1a1a1a" stroke="#1a1a1a" stroke-width="0.16">1.0x10<tspan font-size="3.6" dy="-3">05</tspan></text>
<text x="429" y="387.8" text-anchor="end" font-size="6.8" fill="#1a1a1a" stroke="#1a1a1a" stroke-width="0.16">1.0x10<tspan font-size="3.6" dy="-3">04</tspan></text>
<text x="429" y="399.18" text-anchor="end" font-size="6.8" fill="#1a1a1a" stroke="#1a1a1a" stroke-width="0.16">1.0x10<tspan font-size="3.6" dy="-3">03</tspan></text>
<text x="429" y="410.56" text-anchor="end" font-size="6.8" fill="#1a1a1a" stroke="#1a1a1a" stroke-width="0.16">1.0x10<tspan font-size="3.6" dy="-3">02</tspan></text>
<text x="429" y="421.94" text-anchor="end" font-size="6.8" fill="#1a1a1a" stroke="#1a1a1a" stroke-width="0.16">1.0x10<tspan font-size="3.6" dy="-3">01</tspan></text>
<text x="429" y="433.32" text-anchor="end" font-size="6.8" fill="#1a1a1a" stroke="#1a1a1a" stroke-width="0.16">1.0x10<tspan font-size="3.6" dy="-3">00</tspan></text>
<text x="429" y="444.7" text-anchor="end" font-size="6.8" fill="#1a1a1a" stroke="#1a1a1a" stroke-width="0.16">1.0x10<tspan font-size="3.6" dy="-3">-01</tspan></text>
<text x="463.1" y="444.6" font-size="6.4" fill="#1a1a1a" stroke="#1a1a1a" stroke-width="0.16">1</text>
<text x="463.1" y="410.23" font-size="6.4" fill="#1a1a1a" stroke="#1a1a1a" stroke-width="0.16">10</text>
<text x="463.1" y="375.86" font-size="6.4" fill="#1a1a1a" stroke="#1a1a1a" stroke-width="0.16">100</text>
<text x="463.1" y="341.49" font-size="6.4" fill="#1a1a1a" stroke="#1a1a1a" stroke-width="0.16">1000</text>
<path d="M432,328.5H435.3M432,339.88H435.3M432,351.26H435.3M432,362.64H435.3M432,374.02H435.3M432,385.4H435.3M432,396.78H435.3M432,408.16H435.3M432,419.54H435.3M432,430.92H435.3M432,442.3H435.3M456.7,442.3H459.6M456.7,431.95H458.3M456.7,425.9H458.3M456.7,421.61H458.3M456.7,418.28H458.3M456.7,415.55H458.3M456.7,413.25H458.3M456.7,411.26H458.3M456.7,409.5H458.3M456.7,407.93H459.6M456.7,397.58H458.3M456.7,391.53H458.3M456.7,387.24H458.3M456.7,383.91H458.3M456.7,381.18H458.3M456.7,378.88H458.3M456.7,376.89H458.3M456.7,375.13H458.3M456.7,373.56H459.6M456.7,363.21H458.3M456.7,357.16H458.3M456.7,352.87H458.3M456.7,349.54H458.3M456.7,346.81H458.3M456.7,344.51H458.3M456.7,342.52H458.3M456.7,340.76H458.3M456.7,339.19H459.6M456.7,328.84H458.3M437.7,442.3V445.5M443.07,442.3V445.5M448.43,442.3V445.5M453.8,442.3V445.5" stroke="#000" stroke-width="1.3" fill="none"/>
<text transform="translate(439.6,447.2) rotate(-90)" text-anchor="end" font-size="5.3" fill="#1a1a1a" stroke="#1a1a1a" stroke-width="0.12">14</text>
<text transform="translate(444.97,447.2) rotate(-90)" text-anchor="end" font-size="5.3" fill="#1a1a1a" stroke="#1a1a1a" stroke-width="0.12">21</text>
<text transform="translate(450.33,447.2) rotate(-90)" text-anchor="end" font-size="5.3" fill="#1a1a1a" stroke="#1a1a1a" stroke-width="0.12">28</text>
<text transform="translate(455.7,447.2) rotate(-90)" text-anchor="end" font-size="5.3" fill="#1a1a1a" stroke="#1a1a1a" stroke-width="0.12">35</text>
<text x="445.7" y="321" text-anchor="middle" font-size="8.7" fill="#111" stroke="#111" stroke-width="0.18">Pt. no. 12</text>
<polyline points="438,363 443,362 448,359 454,366.4" fill="none" stroke="#AA7232" stroke-width="1.9" stroke-linejoin="miter" stroke-miterlimit="3"/>
<polyline points="438,372.4 443,396 448,396 454,431" fill="none" stroke="#253A5E" stroke-width="1.9" stroke-linejoin="miter" stroke-miterlimit="3"/>
<polygon points="454,405.8 456.2,408 454,410.2 451.8,408" fill="#5A9A44"/>
<line x1="439" y1="353.6" x2="439" y2="364.9" stroke="#2a2a2a" stroke-width="1.3"/>
<polygon points="436.4,364.4 441.6,364.4 439,369.6" fill="#111"/>
<line x1="448" y1="374.4" x2="448" y2="386.3" stroke="#4A5F88" stroke-width="1.3"/>
<polygon points="445.4,385.8 450.6,385.8 448,391" fill="#2A4169"/>
<text transform="translate(7.9,475.6) scale(0.92,1)" font-size="11.5" font-weight="bold" fill="#111">B</text>
<path d="M50.8,474.7V583.3H212" fill="none" stroke="#000" stroke-width="1.4"/>
<text x="44.6" y="573.8" text-anchor="end" font-size="6.1" fill="#222">0</text>
<text x="44.6" y="549.94" text-anchor="end" font-size="6.1" fill="#222">2</text>
<text x="44.6" y="526.08" text-anchor="end" font-size="6.1" fill="#222">4</text>
<text x="44.6" y="502.22" text-anchor="end" font-size="6.1" fill="#222">6</text>
<text x="44.6" y="478.36" text-anchor="end" font-size="6.1" fill="#222">8</text>
<path d="M46.3,571.8H50.8M46.3,547.94H50.8M46.3,524.08H50.8M46.3,500.22H50.8M46.3,476.36H50.8M77.2,583.3V586.3M130.8,583.3V586.3M184,583.3V586.3" stroke="#000" stroke-width="1.1"/>
<text transform="translate(33.2,529) rotate(-90)" text-anchor="middle" font-size="8.4" fill="#222" textLength="90" lengthAdjust="spacingAndGlyphs">Viral load log<tspan font-size="5.4" dy="2">10</tspan><tspan dy="-2"> copies/mL</tspan></text>
<path d="M77.55,505.8V508.8M77.55,534.9V543.4M71.3,505.8H83.8M71.3,543.4H83.8" stroke="#111" stroke-width="1.4"/>
<rect x="63.3" y="508.8" width="28.5" height="26.1" fill="#6CAA3E"/>
<line x1="63.3" y1="525.4" x2="91.8" y2="525.4" stroke="#111" stroke-width="1.6"/>
<path d="M131.15,482.2V494.3M131.15,517.8V520.1M124.9,482.2H137.4M124.9,520.1H137.4" stroke="#111" stroke-width="1.4"/>
<rect x="117.1" y="494.3" width="28.1" height="23.5" fill="#AE0B36"/>
<line x1="117.1" y1="510.2" x2="145.2" y2="510.2" stroke="#111" stroke-width="1.6"/>
<path d="M184.3,500.5V509.7M184.3,571.8V571.8M178.05,500.5H190.55M178.05,571.8H190.55" stroke="#111" stroke-width="1.4"/>
<rect x="170.1" y="509.7" width="28.4" height="62.1" fill="#2E4D86"/>
<line x1="170.1" y1="544.3" x2="198.5" y2="544.3" stroke="#111" stroke-width="1.6"/>
<polyline points="77.5,525.4 131.1,510.2 184.3,544.3" fill="none" stroke="#111" stroke-width="2"/>
<rect x="13.3" y="589" width="198.7" height="23.6" fill="none" stroke="#222" stroke-width="1.3"/>
<line x1="70.2" y1="595.9" x2="73.5" y2="595.9" stroke="#111" stroke-width="1.1"/>
<polygon points="66.8,595.9 70.2,594.5 70.2,597.3" fill="#111"/>
<text x="76.2" y="598" font-size="6.7" fill="#111">CIDOFOVIR</text>
<line x1="118.6" y1="595.9" x2="115.7" y2="595.9" stroke="#111" stroke-width="1.1"/>
<polygon points="122,595.9 118.6,594.5 118.6,597.3" fill="#111"/>
<line x1="127.1" y1="595.9" x2="129.8" y2="595.9" stroke="#111" stroke-width="1.1"/>
<polygon points="123.7,595.9 127.1,594.5 127.1,597.3" fill="#111"/>
<text x="133.5" y="598" font-size="6.5" fill="#111">BRINCIDOFOVIR</text>
<line x1="191.6" y1="595.9" x2="188.8" y2="595.9" stroke="#111" stroke-width="1.1"/>
<polygon points="195,595.9 191.6,594.5 191.6,597.3" fill="#111"/>
<text x="18" y="608" font-size="5.5" fill="#111">Median (range) 3.90 (2.3, 5.5)</text>
<text x="110.4" y="608" font-size="5.5" fill="#111">5.1 (4.3, 7.5)</text>
<text x="159.5" y="608" font-size="5.5" fill="#111">2.2 (0, 6.0)</text>
</svg>
</body></html>
